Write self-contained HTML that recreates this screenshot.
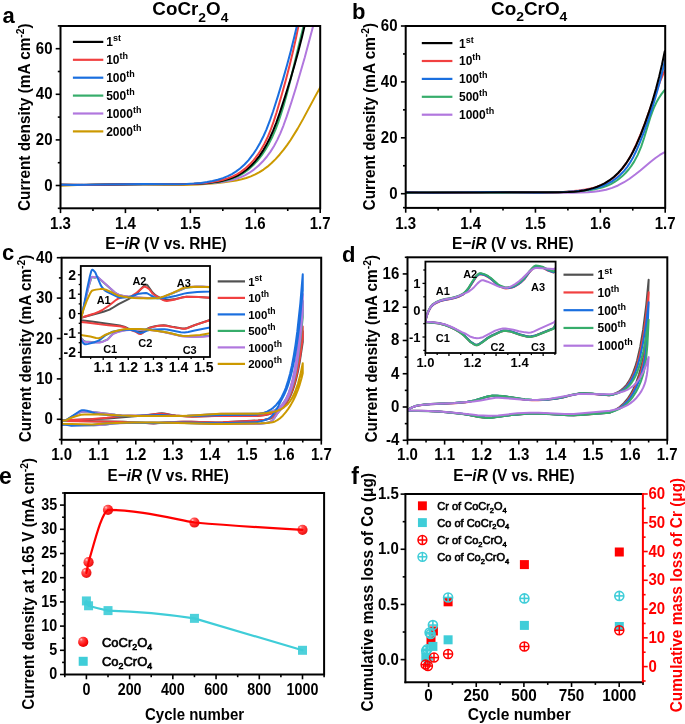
<!DOCTYPE html>
<html><head><meta charset="utf-8"><style>
html,body{margin:0;padding:0;background:#fff;}
body{width:685px;height:724px;overflow:hidden;font-family:"Liberation Sans",sans-serif;}
svg{display:block;will-change:transform;}
</style></head><body>
<svg width="685" height="724" viewBox="0 0 685 724" font-family="Liberation Sans, sans-serif"><clipPath id="clipA"><rect x="60.5" y="26" width="259.7" height="182.3"/></clipPath>
<g clip-path="url(#clipA)">
<polyline points="61.02,185.79 77.06,184.89 94.95,184.47 113.46,184.47 166.56,185.1 183.23,184.92 198.06,184.39 215.36,183.18 224.01,182.28 230.77,181.38 236.25,180.44 241.63,179.25 246.3,177.94 250.85,176.35 255.26,174.44 259.49,172.18 263.54,169.57 267.43,166.65 271.6,163.03 275.57,159.11 279.74,154.48 283.69,149.62 287.06,145.1 290.61,139.97 297.53,128.87 303.03,119.13 315.22,96.35 321.12,85.81" fill="none" stroke="#CC9900" stroke-width="2" stroke-linejoin="round" stroke-linecap="round" />
<polyline points="60.98,184.72 88.82,184.86 145.85,184.2 183.53,184.09 197.89,183.81 209.51,183.29 216.04,182.77 221.78,182.09 227.43,181.13 232.25,180.02 236.95,178.63 241.48,176.9 245.22,175.12 249.4,172.72 253.93,169.56 258.71,165.53 262.66,161.57 266.78,156.75 270.53,151.6 273.92,146.16 277.29,139.86 280.32,133.33 283.57,125.28 286.75,116.4 291.25,102.69 295.93,87.74 304.82,57.19 313.71,23.89" fill="none" stroke="#B177DE" stroke-width="2" stroke-linejoin="round" stroke-linecap="round" />
<polyline points="60.96,184.67 86.21,184.88 144.89,184.06 183.33,184.11 193.91,183.9 203.84,183.44 210.23,182.93 216.57,182.16 222.1,181.2 227.5,179.93 232.08,178.52 236.49,176.79 240.12,175.02 244.16,172.6 248.51,169.42 253.08,165.34 257.31,160.82 261.62,155.36 265.53,149.52 269.05,143.42 272.51,136.48 275.57,129.35 278.32,122.08 281.02,114.05 283.88,104.61 286.71,94.51 291.04,77.66 299.96,40.39 304.1,23.93" fill="none" stroke="#37AD6B" stroke-width="2" stroke-linejoin="round" stroke-linecap="round" />
<polyline points="60.95,184.67 85.44,184.88 143.94,184.07 182.28,184.11 192.82,183.89 202.02,183.42 208.4,182.89 214.73,182.12 220.27,181.16 225.67,179.89 230.26,178.5 234.68,176.79 238.91,174.74 242.36,172.69 246.69,169.54 251.23,165.5 255.42,160.99 259.28,156.1 262.81,150.9 266.38,144.85 269.9,137.97 273.06,130.9 276.42,122.37 279.93,112.4 285.55,95.08 290.66,78.5 294.72,64.54 298.55,50.48 301.99,36.93 305.06,23.86" fill="none" stroke="#000" stroke-width="2" stroke-linejoin="round" stroke-linecap="round" />
<polyline points="60.92,184.65 85.2,184.9 143.04,184.04 181.04,184.17 190.77,183.96 199.14,183.52 206.12,182.9 212.36,182.08 217.82,181.09 223.16,179.79 228.34,178.15 232.69,176.39 236.86,174.3 240.82,171.85 245.08,168.65 249.54,164.58 253.66,160.08 257.43,155.21 260.87,150.04 264.31,144.02 267.36,137.78 270.34,130.72 273.45,122.18 276.65,112.19 281.53,95.55 286.11,79 289.71,65.09 293.09,51.09 296.09,37.59 298.89,23.86" fill="none" stroke="#F14040" stroke-width="2" stroke-linejoin="round" stroke-linecap="round" />
<polyline points="60.88,184.64 73.29,184.88 86.98,184.87 144.05,183.92 178.31,184.16 186.56,183.97 194.12,183.56 200.98,182.91 207.11,182.05 212.49,181.03 217.75,179.73 222.86,178.1 227.78,176.11 231.9,174.04 235.83,171.65 240.05,168.51 244.48,164.51 248.57,160.07 252.76,154.72 256.57,149.01 260.02,143.03 263.44,136.25 266.5,129.32 269.74,120.98 273.11,111.25 278.09,95.62 282.98,79.38 287.05,65.04 290.73,51.27 294.21,37.36 297.34,23.92" fill="none" stroke="#1A6FDF" stroke-width="2" stroke-linejoin="round" stroke-linecap="round" />
</g>
<rect x="60.5" y="26" width="259.7" height="182.3" fill="none" stroke="#000" stroke-width="2"/>
<line x1="60.5" y1="208.3" x2="60.5" y2="213.1" stroke="#000" stroke-width="1.6" stroke-linecap="butt"/>
<line x1="92.96" y1="208.3" x2="92.96" y2="211" stroke="#000" stroke-width="1.6" stroke-linecap="butt"/>
<line x1="125.43" y1="208.3" x2="125.43" y2="213.1" stroke="#000" stroke-width="1.6" stroke-linecap="butt"/>
<line x1="157.89" y1="208.3" x2="157.89" y2="211" stroke="#000" stroke-width="1.6" stroke-linecap="butt"/>
<line x1="190.35" y1="208.3" x2="190.35" y2="213.1" stroke="#000" stroke-width="1.6" stroke-linecap="butt"/>
<line x1="222.81" y1="208.3" x2="222.81" y2="211" stroke="#000" stroke-width="1.6" stroke-linecap="butt"/>
<line x1="255.28" y1="208.3" x2="255.28" y2="213.1" stroke="#000" stroke-width="1.6" stroke-linecap="butt"/>
<line x1="287.74" y1="208.3" x2="287.74" y2="211" stroke="#000" stroke-width="1.6" stroke-linecap="butt"/>
<line x1="320.2" y1="208.3" x2="320.2" y2="213.1" stroke="#000" stroke-width="1.6" stroke-linecap="butt"/>
<text transform="translate(60.5,228.6) scale(1,1.14)" font-size="15" font-weight="bold" text-anchor="middle" fill="#000" >1.3</text>
<text transform="translate(125.42,228.6) scale(1,1.14)" font-size="15" font-weight="bold" text-anchor="middle" fill="#000" >1.4</text>
<text transform="translate(190.35,228.6) scale(1,1.14)" font-size="15" font-weight="bold" text-anchor="middle" fill="#000" >1.5</text>
<text transform="translate(255.28,228.6) scale(1,1.14)" font-size="15" font-weight="bold" text-anchor="middle" fill="#000" >1.6</text>
<text transform="translate(320.2,228.6) scale(1,1.14)" font-size="15" font-weight="bold" text-anchor="middle" fill="#000" >1.7</text>
<line x1="57.8" y1="208.3" x2="60.5" y2="208.3" stroke="#000" stroke-width="1.6" stroke-linecap="butt"/>
<line x1="55.7" y1="185.5" x2="60.5" y2="185.5" stroke="#000" stroke-width="1.6" stroke-linecap="butt"/>
<line x1="57.8" y1="162.7" x2="60.5" y2="162.7" stroke="#000" stroke-width="1.6" stroke-linecap="butt"/>
<line x1="55.7" y1="139.9" x2="60.5" y2="139.9" stroke="#000" stroke-width="1.6" stroke-linecap="butt"/>
<line x1="57.8" y1="117.1" x2="60.5" y2="117.1" stroke="#000" stroke-width="1.6" stroke-linecap="butt"/>
<line x1="55.7" y1="94.3" x2="60.5" y2="94.3" stroke="#000" stroke-width="1.6" stroke-linecap="butt"/>
<line x1="57.8" y1="71.5" x2="60.5" y2="71.5" stroke="#000" stroke-width="1.6" stroke-linecap="butt"/>
<line x1="55.7" y1="48.7" x2="60.5" y2="48.7" stroke="#000" stroke-width="1.6" stroke-linecap="butt"/>
<line x1="57.8" y1="25.9" x2="60.5" y2="25.9" stroke="#000" stroke-width="1.6" stroke-linecap="butt"/>
<text transform="translate(52.5,190.5) scale(1,1.14)" font-size="15" font-weight="bold" text-anchor="end" fill="#000" >0</text>
<text transform="translate(52.5,144.9) scale(1,1.14)" font-size="15" font-weight="bold" text-anchor="end" fill="#000" >20</text>
<text transform="translate(52.5,99.3) scale(1,1.14)" font-size="15" font-weight="bold" text-anchor="end" fill="#000" >40</text>
<text transform="translate(52.5,53.7) scale(1,1.14)" font-size="15" font-weight="bold" text-anchor="end" fill="#000" >60</text>
<line x1="72.9" y1="41.9" x2="103.3" y2="41.9" stroke="#000" stroke-width="2.2" stroke-linecap="butt"/>
<text x="106.2" y="46.3" font-size="12" font-weight="bold" fill="#000">1<tspan font-size="9" dy="-5">st</tspan></text>
<line x1="72.9" y1="59.8" x2="103.3" y2="59.8" stroke="#F14040" stroke-width="2.2" stroke-linecap="butt"/>
<text x="106.2" y="64.2" font-size="12" font-weight="bold" fill="#000">10<tspan font-size="9" dy="-5">th</tspan></text>
<line x1="72.9" y1="77.7" x2="103.3" y2="77.7" stroke="#1A6FDF" stroke-width="2.2" stroke-linecap="butt"/>
<text x="106.2" y="82.1" font-size="12" font-weight="bold" fill="#000">100<tspan font-size="9" dy="-5">th</tspan></text>
<line x1="72.9" y1="95.6" x2="103.3" y2="95.6" stroke="#37AD6B" stroke-width="2.2" stroke-linecap="butt"/>
<text x="106.2" y="100" font-size="12" font-weight="bold" fill="#000">500<tspan font-size="9" dy="-5">th</tspan></text>
<line x1="72.9" y1="113.5" x2="103.3" y2="113.5" stroke="#B177DE" stroke-width="2.2" stroke-linecap="butt"/>
<text x="106.2" y="117.9" font-size="12" font-weight="bold" fill="#000">1000<tspan font-size="9" dy="-5">th</tspan></text>
<line x1="72.9" y1="131.4" x2="103.3" y2="131.4" stroke="#CC9900" stroke-width="2.2" stroke-linecap="butt"/>
<text x="106.2" y="135.8" font-size="12" font-weight="bold" fill="#000">2000<tspan font-size="9" dy="-5">th</tspan></text>
<text transform="translate(166,248.6) scale(1,1.13)" font-size="15.35" font-weight="bold" text-anchor="middle" fill="#000">E−<tspan font-style="italic">iR</tspan> (V vs. RHE)</text>
<text transform="translate(30,117.15) rotate(-90) scale(1,1.12)" x="0" y="0" font-size="15.35" font-weight="bold" text-anchor="middle" fill="#000">Current density (mA cm<tspan font-size="10.4" dy="-5.7">-2</tspan><tspan dy="5.7">)</tspan></text>
<text x="2.5" y="22.8" font-size="22" font-weight="bold" text-anchor="start" fill="#000" >a</text>
<text x="190.35" y="15.3" font-size="17.5" font-weight="bold" text-anchor="middle" fill="#000" textLength="76" lengthAdjust="spacingAndGlyphs" ><tspan>CoCr</tspan><tspan font-size="12.9" dy="6.4">2</tspan><tspan dy="-6.4">O</tspan><tspan font-size="12.9" dy="6.4">4</tspan></text>
<clipPath id="clipB"><rect x="405.7" y="26" width="259.50000000000006" height="181.9"/></clipPath>
<g clip-path="url(#clipB)">
<polyline points="405.94,192.4 444.01,192.7 526.39,192.34 572.09,192.68 580.27,192.53 587.91,192.19 593.87,191.71 599.23,191.03 606.05,189.69 612.14,187.89 618,185.47 624.1,182.22 629.53,178.74 635.22,174.56 640.34,170.45 650.38,161.98 655.46,157.99 659.82,154.97 664.34,152.33" fill="none" stroke="#B177DE" stroke-width="2" stroke-linejoin="round" stroke-linecap="round" />
<polyline points="405.86,193.09 423.18,192.46 442.33,192.17 462.67,192.21 522.28,192.8 541.37,192.66 557.98,192.23 577.25,191.26 588.77,190.18 593.79,189.41 598.7,188.38 602.89,187.23 606.96,185.8 610.88,184.05 614.65,181.96 618.23,179.52 622.1,176.35 625.27,173.28 628.63,169.48 631.33,165.92 634.14,161.64 637.74,154.87 641.19,146.6 644.08,138.05 650.25,117.72 652.13,112.33 653.98,107.65 656.34,102.57 658.74,98.23 661.47,94.09 664.59,90.18" fill="none" stroke="#37AD6B" stroke-width="2" stroke-linejoin="round" stroke-linecap="round" />
<polyline points="405.95,192.12 417.93,192.55 431.19,192.72 487.4,192.04 500.65,192.12 535.16,192.7 545.77,192.66 555.71,192.4 563.65,191.99 571.58,191.35 578.84,190.54 585.41,189.58 590.6,188.57 595.04,187.42 599.35,185.98 602.91,184.45 606.9,182.34 611.2,179.51 614.73,176.69 618.48,173.1 621.93,169.16 625.1,164.92 628.03,160.44 631.06,155.18 635.88,145.46 641.12,133.14 645.79,120.8 657.29,88.65 660.94,79.36 664.69,70.68" fill="none" stroke="#F14040" stroke-width="2" stroke-linejoin="round" stroke-linecap="round" />
<polyline points="405.99,192.19 418.43,192.54 432.25,192.67 488.15,192.12 537.9,192.68 548.94,192.61 559.29,192.31 567.55,191.87 575.81,191.2 584.05,190.26 590.2,189.32 594.92,188.35 599.56,187.08 604.06,185.44 607.8,183.7 611.98,181.32 616.47,178.15 620.11,175.03 623.88,171.11 627.26,166.85 630.28,162.3 633.34,156.91 636.09,151.3 639.66,142.96 644.19,131.27 648.37,119.58 652.24,107.84 655.83,96.03 659.15,84.11 662.41,71.4 665.45,58.51" fill="none" stroke="#1A6FDF" stroke-width="2" stroke-linejoin="round" stroke-linecap="round" />
<polyline points="406.07,192.51 480.92,192.44 531.74,192.15 558.61,192.29 568.55,192.06 574.18,191.69 579.06,191.16 583.87,190.41 588.61,189.4 593.26,188.1 597.15,186.75 600.92,185.15 604.57,183.31 609.21,180.46 614.08,176.73 618.09,173 622.24,168.4 626.01,163.43 629.43,158.15 632.88,152 636.31,144.98 640.24,135.8 644.8,123.91 648.73,112.7 652.53,100.81 655.98,88.85 659.13,76.76 662,64.49 664.76,51.29" fill="none" stroke="#000" stroke-width="2" stroke-linejoin="round" stroke-linecap="round" />
</g>
<rect x="405.7" y="26" width="259.5" height="181.9" fill="none" stroke="#000" stroke-width="2"/>
<line x1="405.7" y1="207.9" x2="405.7" y2="212.7" stroke="#000" stroke-width="1.6" stroke-linecap="butt"/>
<line x1="438.14" y1="207.9" x2="438.14" y2="210.6" stroke="#000" stroke-width="1.6" stroke-linecap="butt"/>
<line x1="470.58" y1="207.9" x2="470.58" y2="212.7" stroke="#000" stroke-width="1.6" stroke-linecap="butt"/>
<line x1="503.01" y1="207.9" x2="503.01" y2="210.6" stroke="#000" stroke-width="1.6" stroke-linecap="butt"/>
<line x1="535.45" y1="207.9" x2="535.45" y2="212.7" stroke="#000" stroke-width="1.6" stroke-linecap="butt"/>
<line x1="567.89" y1="207.9" x2="567.89" y2="210.6" stroke="#000" stroke-width="1.6" stroke-linecap="butt"/>
<line x1="600.33" y1="207.9" x2="600.33" y2="212.7" stroke="#000" stroke-width="1.6" stroke-linecap="butt"/>
<line x1="632.76" y1="207.9" x2="632.76" y2="210.6" stroke="#000" stroke-width="1.6" stroke-linecap="butt"/>
<line x1="665.2" y1="207.9" x2="665.2" y2="212.7" stroke="#000" stroke-width="1.6" stroke-linecap="butt"/>
<text transform="translate(405.7,228.6) scale(1,1.14)" font-size="15" font-weight="bold" text-anchor="middle" fill="#000" >1.3</text>
<text transform="translate(470.57,228.6) scale(1,1.14)" font-size="15" font-weight="bold" text-anchor="middle" fill="#000" >1.4</text>
<text transform="translate(535.45,228.6) scale(1,1.14)" font-size="15" font-weight="bold" text-anchor="middle" fill="#000" >1.5</text>
<text transform="translate(600.33,228.6) scale(1,1.14)" font-size="15" font-weight="bold" text-anchor="middle" fill="#000" >1.6</text>
<text transform="translate(665.2,228.6) scale(1,1.14)" font-size="15" font-weight="bold" text-anchor="middle" fill="#000" >1.7</text>
<line x1="403" y1="207.67" x2="405.7" y2="207.67" stroke="#000" stroke-width="1.6" stroke-linecap="butt"/>
<line x1="400.9" y1="193.7" x2="405.7" y2="193.7" stroke="#000" stroke-width="1.6" stroke-linecap="butt"/>
<line x1="403" y1="165.75" x2="405.7" y2="165.75" stroke="#000" stroke-width="1.6" stroke-linecap="butt"/>
<line x1="400.9" y1="137.8" x2="405.7" y2="137.8" stroke="#000" stroke-width="1.6" stroke-linecap="butt"/>
<line x1="403" y1="109.85" x2="405.7" y2="109.85" stroke="#000" stroke-width="1.6" stroke-linecap="butt"/>
<line x1="400.9" y1="81.9" x2="405.7" y2="81.9" stroke="#000" stroke-width="1.6" stroke-linecap="butt"/>
<line x1="403" y1="53.95" x2="405.7" y2="53.95" stroke="#000" stroke-width="1.6" stroke-linecap="butt"/>
<line x1="400.9" y1="26" x2="405.7" y2="26" stroke="#000" stroke-width="1.6" stroke-linecap="butt"/>
<text transform="translate(397.5,198.7) scale(1,1.14)" font-size="15" font-weight="bold" text-anchor="end" fill="#000" >0</text>
<text transform="translate(397.5,142.8) scale(1,1.14)" font-size="15" font-weight="bold" text-anchor="end" fill="#000" >20</text>
<text transform="translate(397.5,86.9) scale(1,1.14)" font-size="15" font-weight="bold" text-anchor="end" fill="#000" >40</text>
<text transform="translate(397.5,31) scale(1,1.14)" font-size="15" font-weight="bold" text-anchor="end" fill="#000" >60</text>
<line x1="421.8" y1="43.1" x2="452.4" y2="43.1" stroke="#000" stroke-width="2.2" stroke-linecap="butt"/>
<text x="459" y="47.5" font-size="12" font-weight="bold" fill="#000">1<tspan font-size="9" dy="-5">st</tspan></text>
<line x1="421.8" y1="61" x2="452.4" y2="61" stroke="#F14040" stroke-width="2.2" stroke-linecap="butt"/>
<text x="459" y="65.4" font-size="12" font-weight="bold" fill="#000">10<tspan font-size="9" dy="-5">th</tspan></text>
<line x1="421.8" y1="78.9" x2="452.4" y2="78.9" stroke="#1A6FDF" stroke-width="2.2" stroke-linecap="butt"/>
<text x="459" y="83.3" font-size="12" font-weight="bold" fill="#000">100<tspan font-size="9" dy="-5">th</tspan></text>
<line x1="421.8" y1="96.8" x2="452.4" y2="96.8" stroke="#37AD6B" stroke-width="2.2" stroke-linecap="butt"/>
<text x="459" y="101.2" font-size="12" font-weight="bold" fill="#000">500<tspan font-size="9" dy="-5">th</tspan></text>
<line x1="421.8" y1="114.7" x2="452.4" y2="114.7" stroke="#B177DE" stroke-width="2.2" stroke-linecap="butt"/>
<text x="459" y="119.1" font-size="12" font-weight="bold" fill="#000">1000<tspan font-size="9" dy="-5">th</tspan></text>
<text transform="translate(512.8,248.6) scale(1,1.13)" font-size="15.35" font-weight="bold" text-anchor="middle" fill="#000">E−<tspan font-style="italic">iR</tspan> (V vs. RHE)</text>
<text transform="translate(375.3,116.6) rotate(-90) scale(1,1.12)" x="0" y="0" font-size="15.35" font-weight="bold" text-anchor="middle" fill="#000">Current density (mA cm<tspan font-size="10.4" dy="-5.7">-2</tspan><tspan dy="5.7">)</tspan></text>
<text x="352" y="19" font-size="22" font-weight="bold" text-anchor="start" fill="#000" >b</text>
<text x="529.2" y="15.3" font-size="17.5" font-weight="bold" text-anchor="middle" fill="#000" textLength="76.3" lengthAdjust="spacingAndGlyphs" ><tspan>Co</tspan><tspan font-size="12.9" dy="5.6">2</tspan><tspan dy="-5.6">CrO</tspan><tspan font-size="12.9" dy="5.6">4</tspan></text>
<clipPath id="clipC"><rect x="61.6" y="257.7" width="259.59999999999997" height="182.10000000000002"/></clipPath>
<g clip-path="url(#clipC)">
<path d="M61.6,420.15 L73.08,419.89 L108.14,418.46 L143.8,415.62 L158.91,413.5 L161.93,413.27 L164.35,413.46 L171.6,414.91 L175.83,415.45 L186.1,416.27 L192.15,416.47 L221.76,415.78 L256.21,416.01 L261.05,415.57 L265.28,414.95 L268.9,414.15 L271.93,413.21 L274.95,411.92 L277.97,410.16 L280.99,407.75 L283.41,405.2 L285.83,401.92 L287.64,398.86 L289.45,395.17 L291.27,390.72 L294.29,381.15 L297.31,368.07 L300.33,350.18 L302.75,331.23 L302.75,341.98 L299.73,362.08 L297.91,371.44 L296.1,379.19 L294.29,385.62 L292.48,390.95 L290.66,395.36 L288.85,399.02 L287.04,402.05 L285.22,404.56 L279.78,410.62 L275.55,414.86 L272.53,417.27 L270.11,418.54 L264.67,419.76 L258.03,420.51 L222.97,422.3 L215.11,422.38 L191.54,421.78 L183.69,421.76 L167.97,422.2 L154.07,423.13 L140.77,422.67 L123.25,421.79 L61.6,420.7 Z" fill="none" stroke="#515151" stroke-width="2" stroke-linejoin="round"/>
<path d="M61.6,420.15 L69.46,420.01 L92.42,418.91 L106.93,417.67 L120.23,416.23 L129.29,415.76 L139.57,415.75 L159.51,413.7 L166.76,414.23 L171.6,415.13 L174.62,415.46 L187.31,416.49 L192.75,416.65 L221.76,415.79 L256.21,416.01 L261.05,415.55 L265.28,414.89 L268.9,414.04 L271.93,413.05 L274.95,411.69 L277.97,409.82 L280.99,407.28 L283.41,404.58 L285.83,401.11 L287.64,397.88 L289.45,393.98 L291.27,389.27 L294.29,379.16 L297.31,365.33 L300.33,346.41 L302.75,326.38 L302.75,337.74 L299.73,358.99 L297.91,368.89 L296.1,377.09 L294.29,383.89 L292.48,389.52 L290.66,394.18 L288.85,398.05 L287.04,401.25 L285.22,403.91 L280.39,409.6 L276.16,414.09 L273.14,416.72 L270.11,418.47 L264.67,419.75 L258.03,420.55 L222.97,422.33 L215.72,422.43 L190.94,421.81 L181.27,421.83 L167.37,422.28 L153.47,423.57 L129.29,422.09 L61.6,421.03 Z" fill="none" stroke="#F14040" stroke-width="2" stroke-linejoin="round"/>
<path d="M61.6,420.49 L65.83,420.45 L76.71,413.91 L80.34,412.22 L82.15,411.72 L90.61,411.75 L115.39,414.86 L122.04,415.43 L140.77,415.9 L180.06,416.11 L187.31,415.87 L221.76,413.89 L258.03,413.73 L263.46,413.24 L267.7,412.56 L271.32,411.64 L274.95,410.21 L277.97,408.44 L280.39,406.48 L282.81,403.87 L285.22,400.38 L287.04,397.01 L288.85,392.83 L290.66,387.63 L292.48,381.16 L294.29,373.13 L295.5,366.72 L297.91,350.76 L300.33,329.43 L302.75,300.93 L302.75,317.22 L300.33,341.62 L298.52,355.8 L296.71,367.22 L294.89,376.4 L293.08,383.79 L291.87,387.9 L290.06,393.05 L288.24,397.19 L286.43,400.52 L281.6,407.26 L274.34,418.03 L271.93,420.73 L270.11,421.99 L265.88,422.97 L260.44,423.63 L256.21,423.9 L246.54,424.04 L216.93,423.99 L175.83,422.79 L151.05,422.55 L132.31,422.69 L120.23,423.09 L112.97,423.52 L104.51,424.72 L93.63,425.26 L71.87,425.1 L65.83,424.37 L61.6,424.36 Z" fill="none" stroke="#37AD6B" stroke-width="2" stroke-linejoin="round"/>
<path d="M61.6,420.42 L65.83,420.39 L76.71,413.85 L80.34,412.15 L82.15,411.66 L90.61,411.69 L115.39,414.79 L122.04,415.37 L141.38,415.84 L180.66,416.04 L187.31,415.81 L221.76,413.83 L258.63,413.63 L264.07,413.12 L268.3,412.41 L271.93,411.42 L275.55,409.88 L278.57,407.96 L280.99,405.82 L283.41,402.94 L285.22,400.14 L287.04,396.65 L288.85,392.3 L290.66,386.85 L292.48,380.06 L294.29,371.58 L295.5,364.78 L297.91,347.75 L300.33,324.85 L302.75,294.06 L302.75,311.69 L300.33,337.96 L298.52,353.14 L296.71,365.3 L294.89,375.03 L293.08,382.83 L291.87,387.14 L290.06,392.53 L288.24,396.84 L286.43,400.29 L281.6,407.2 L274.34,418.12 L271.93,420.84 L270.11,422.1 L266.49,422.97 L261.05,423.65 L256.21,423.96 L246.54,424.1 L216.93,424.05 L175.83,422.85 L151.05,422.61 L132.31,422.76 L120.23,423.15 L112.97,423.58 L104.51,424.78 L93.63,425.32 L71.87,425.17 L65.83,424.43 L61.6,424.42 Z" fill="none" stroke="#B177DE" stroke-width="2" stroke-linejoin="round"/>
<path d="M61.6,420.47 L65.83,420.43 L79.13,411.47 L80.94,410.51 L82.15,410.19 L83.96,410.23 L86.98,410.72 L94.84,413.32 L99.68,414.28 L104.51,414.77 L121.43,415.9 L125.66,416.01 L136.54,415.85 L151.65,415.15 L161.93,415.01 L175.22,415.96 L180.06,416.11 L194.56,415.96 L222.97,415.01 L256.21,414.68 L260.44,413.85 L264.07,412.78 L267.09,411.57 L270.11,409.96 L273.14,407.81 L276.16,404.95 L279.18,401.15 L281.6,397.22 L284.01,392.28 L285.83,387.76 L288.24,380.38 L290.06,373.64 L291.87,365.63 L293.68,356.12 L295.5,344.84 L297.31,331.45 L300.33,303.32 L302.75,274.26 L302.75,290.67 L299.73,321.94 L297.91,336.83 L296.1,349.38 L294.29,359.95 L291.87,371.49 L290.06,378.58 L288.24,384.55 L286.43,389.57 L284.01,395.07 L278.57,405.65 L274.95,411.89 L271.93,415.97 L269.51,418.05 L266.49,419.53 L263.46,420.62 L259.84,421.57 L256.21,422.22 L218.74,423.24 L184.89,422.55 L167.37,422.67 L153.47,423.34 L138.96,422.67 L129.29,422.65 L111.16,423.15 L102.7,423.76 L91.82,424.93 L76.71,425.61 L71.27,425.67 L68.85,425.38 L65.83,424.75 L61.6,424.74 Z" fill="none" stroke="#1A6FDF" stroke-width="2" stroke-linejoin="round"/>
<path d="M61.6,420.42 L65.83,420.39 L70.06,418.26 L74.9,416.46 L80.94,414.73 L84.57,414.41 L99.68,414.21 L120.83,415.53 L134.73,415.92 L152.86,416.09 L180.06,416.04 L188.52,415.72 L219.95,413.86 L258.03,413.69 L267.09,413.01 L273.74,411.87 L276.76,411.01 L279.18,410.09 L281.6,408.9 L284.01,407.34 L286.43,405.33 L288.24,403.44 L290.06,401.13 L291.87,398.33 L294.89,392.26 L297.91,383.85 L300.33,374.84 L302.75,363.14 L302.75,373.19 L301.54,378.19 L299.73,384.56 L297.91,389.85 L295.5,395.77 L293.08,400.78 L290.66,405.13 L288.24,408.91 L285.83,412.21 L282.81,415.67 L279.78,418.44 L277.37,420.17 L274.95,421.45 L272.53,422.27 L267.7,422.91 L261.05,423.29 L225.99,423.93 L214.51,423.93 L189.13,423.13 L153.47,422.51 L133.52,422.51 L123.85,422.71 L108.74,423.31 L92.42,424.41 L61.6,423.78 Z" fill="none" stroke="#CC9900" stroke-width="2" stroke-linejoin="round"/>
</g>
<rect x="61.6" y="257.7" width="259.6" height="182.1" fill="none" stroke="#000" stroke-width="2"/>
<line x1="61.6" y1="439.8" x2="61.6" y2="444.6" stroke="#000" stroke-width="1.6" stroke-linecap="butt"/>
<line x1="80.15" y1="439.8" x2="80.15" y2="442.5" stroke="#000" stroke-width="1.6" stroke-linecap="butt"/>
<line x1="98.7" y1="439.8" x2="98.7" y2="444.6" stroke="#000" stroke-width="1.6" stroke-linecap="butt"/>
<line x1="117.25" y1="439.8" x2="117.25" y2="442.5" stroke="#000" stroke-width="1.6" stroke-linecap="butt"/>
<line x1="135.8" y1="439.8" x2="135.8" y2="444.6" stroke="#000" stroke-width="1.6" stroke-linecap="butt"/>
<line x1="154.35" y1="439.8" x2="154.35" y2="442.5" stroke="#000" stroke-width="1.6" stroke-linecap="butt"/>
<line x1="172.9" y1="439.8" x2="172.9" y2="444.6" stroke="#000" stroke-width="1.6" stroke-linecap="butt"/>
<line x1="191.45" y1="439.8" x2="191.45" y2="442.5" stroke="#000" stroke-width="1.6" stroke-linecap="butt"/>
<line x1="210" y1="439.8" x2="210" y2="444.6" stroke="#000" stroke-width="1.6" stroke-linecap="butt"/>
<line x1="228.55" y1="439.8" x2="228.55" y2="442.5" stroke="#000" stroke-width="1.6" stroke-linecap="butt"/>
<line x1="247.1" y1="439.8" x2="247.1" y2="444.6" stroke="#000" stroke-width="1.6" stroke-linecap="butt"/>
<line x1="265.65" y1="439.8" x2="265.65" y2="442.5" stroke="#000" stroke-width="1.6" stroke-linecap="butt"/>
<line x1="284.2" y1="439.8" x2="284.2" y2="444.6" stroke="#000" stroke-width="1.6" stroke-linecap="butt"/>
<line x1="302.75" y1="439.8" x2="302.75" y2="442.5" stroke="#000" stroke-width="1.6" stroke-linecap="butt"/>
<line x1="321.3" y1="439.8" x2="321.3" y2="444.6" stroke="#000" stroke-width="1.6" stroke-linecap="butt"/>
<text transform="translate(61.6,460.2) scale(1,1.14)" font-size="15" font-weight="bold" text-anchor="middle" fill="#000" >1.0</text>
<text transform="translate(98.7,460.2) scale(1,1.14)" font-size="15" font-weight="bold" text-anchor="middle" fill="#000" >1.1</text>
<text transform="translate(135.8,460.2) scale(1,1.14)" font-size="15" font-weight="bold" text-anchor="middle" fill="#000" >1.2</text>
<text transform="translate(172.9,460.2) scale(1,1.14)" font-size="15" font-weight="bold" text-anchor="middle" fill="#000" >1.3</text>
<text transform="translate(210,460.2) scale(1,1.14)" font-size="15" font-weight="bold" text-anchor="middle" fill="#000" >1.4</text>
<text transform="translate(247.1,460.2) scale(1,1.14)" font-size="15" font-weight="bold" text-anchor="middle" fill="#000" >1.5</text>
<text transform="translate(284.2,460.2) scale(1,1.14)" font-size="15" font-weight="bold" text-anchor="middle" fill="#000" >1.6</text>
<text transform="translate(321.3,460.2) scale(1,1.14)" font-size="15" font-weight="bold" text-anchor="middle" fill="#000" >1.7</text>
<line x1="58.9" y1="439.5" x2="61.6" y2="439.5" stroke="#000" stroke-width="1.6" stroke-linecap="butt"/>
<line x1="56.8" y1="419.3" x2="61.6" y2="419.3" stroke="#000" stroke-width="1.6" stroke-linecap="butt"/>
<line x1="58.9" y1="399.1" x2="61.6" y2="399.1" stroke="#000" stroke-width="1.6" stroke-linecap="butt"/>
<line x1="56.8" y1="378.9" x2="61.6" y2="378.9" stroke="#000" stroke-width="1.6" stroke-linecap="butt"/>
<line x1="58.9" y1="358.7" x2="61.6" y2="358.7" stroke="#000" stroke-width="1.6" stroke-linecap="butt"/>
<line x1="56.8" y1="338.5" x2="61.6" y2="338.5" stroke="#000" stroke-width="1.6" stroke-linecap="butt"/>
<line x1="58.9" y1="318.3" x2="61.6" y2="318.3" stroke="#000" stroke-width="1.6" stroke-linecap="butt"/>
<line x1="56.8" y1="298.1" x2="61.6" y2="298.1" stroke="#000" stroke-width="1.6" stroke-linecap="butt"/>
<line x1="58.9" y1="277.9" x2="61.6" y2="277.9" stroke="#000" stroke-width="1.6" stroke-linecap="butt"/>
<line x1="56.8" y1="257.7" x2="61.6" y2="257.7" stroke="#000" stroke-width="1.6" stroke-linecap="butt"/>
<text transform="translate(52.8,424.3) scale(1,1.14)" font-size="15" font-weight="bold" text-anchor="end" fill="#000" >0</text>
<text transform="translate(52.8,383.9) scale(1,1.14)" font-size="15" font-weight="bold" text-anchor="end" fill="#000" >10</text>
<text transform="translate(52.8,343.5) scale(1,1.14)" font-size="15" font-weight="bold" text-anchor="end" fill="#000" >20</text>
<text transform="translate(52.8,303.1) scale(1,1.14)" font-size="15" font-weight="bold" text-anchor="end" fill="#000" >30</text>
<text transform="translate(52.8,262.7) scale(1,1.14)" font-size="15" font-weight="bold" text-anchor="end" fill="#000" >40</text>
<rect x="80.8" y="266" width="129.2" height="91" fill="#fff"/>
<clipPath id="clipCi"><rect x="80.8" y="266" width="129.2" height="91"/></clipPath>
<g clip-path="url(#clipCi)">
<path d="M78.07,317.7 L80.94,317.69 L85.85,316.45 L103.45,311.74 L109.59,309.57 L112.05,308.22 L118.6,304.07 L128.01,299.35 L133.74,295.93 L136.2,293.94 L143.97,285.76 L145.2,284.89 L146.02,284.62 L146.84,284.77 L147.66,285.54 L152.57,292.53 L155.43,295.12 L157.48,296.47 L162.39,299.04 L164.44,299.76 L166.48,300 L169.76,299.77 L175.49,298.93 L183.27,297.15 L186.54,296.72 L198.82,297.04 L209.87,297.8 L211.51,296.92 L213.15,295.71 L216.01,292.72 L218.47,288.87 L220.51,284.34 L222.56,278.16 L224.61,269.7 L226.65,258.13 L228.29,245.88 L229.93,230.13 L231.15,215.45 L233.61,176.34 L235.66,130.42 L237.7,67.6 L239.75,-18.32 L241.39,-109.32 L241.39,-57.71 L239.34,38.81 L236.89,121.02 L234.43,177.46 L231.97,216.22 L229.52,242.84 L225.83,271.93 L222.97,292.29 L220.92,303.85 L219.29,309.95 L217.65,313.04 L215.6,315.79 L213.55,317.77 L211.1,319.43 L209.87,320 L194.32,325.24 L187.36,327.99 L184.9,328.47 L182.04,328.39 L173.85,327.11 L166.08,325.53 L163.62,325.31 L160.75,325.4 L156.25,326.04 L150.11,327.51 L148.48,328.2 L142.34,331.42 L140.7,331.97 L138.65,331.77 L131.69,329.79 L128.01,328.5 L124.33,326.61 L119.82,325.54 L91.58,321.56 L80.94,320.3 L78.07,320.3 Z" fill="none" stroke="#515151" stroke-width="2" stroke-linejoin="round"/>
<path d="M78.07,317.7 L80.94,317.69 L83.4,317.01 L93.63,313.82 L98.95,311.75 L103.04,309.51 L108.77,305.78 L115.32,300.5 L117.78,298.84 L121.46,297.26 L123.92,296.59 L125.55,296.53 L128.83,297 L130.88,296.55 L135.79,293.47 L142.75,287.58 L144.38,286.73 L145.2,286.75 L146.43,287.2 L149.29,289.25 L152.57,293.58 L154.61,295.18 L163.21,300.09 L165.26,300.8 L166.89,300.89 L169.76,300.57 L175.49,299.4 L183.27,297.24 L186.54,296.72 L198.82,297.04 L209.87,297.8 L211.51,296.87 L213.15,295.59 L216.01,292.42 L218.47,288.35 L220.51,283.58 L222.56,277.04 L224.61,268.1 L226.65,255.86 L228.29,242.91 L229.93,226.27 L231.15,210.74 L233.61,169.39 L235.66,120.85 L237.7,54.44 L239.75,-36.4 L241.39,-132.6 L241.39,-78.04 L239.34,24 L236.89,110.91 L234.43,170.58 L231.97,211.56 L229.52,239.69 L226.24,267.01 L223.38,288.57 L221.33,301.2 L220.1,306.87 L219.29,309.6 L217.65,312.86 L215.6,315.76 L213.55,317.85 L211.1,319.6 L209.87,320.2 L194.73,325.09 L187.36,328.16 L184.9,328.67 L182.45,328.63 L174.26,327.38 L165.67,325.68 L162.8,325.5 L159.12,325.75 L154.21,326.64 L149.7,327.9 L144.79,331.14 L141.93,333.48 L141.11,333.93 L140.29,334.1 L139.06,333.79 L135.79,331.91 L128.01,329 L125.15,327.41 L123.92,326.98 L119.41,326.33 L108.36,325.37 L86.26,322.47 L80.94,321.9 L78.07,321.9 Z" fill="none" stroke="#F14040" stroke-width="2" stroke-linejoin="round"/>
<path d="M78.07,319.3 L80.53,319.3 L80.94,319.14 L88.31,287.71 L90.76,279.59 L91.58,277.72 L91.99,277.22 L92.81,277.17 L94.86,277.79 L96.9,277.1 L97.72,277.36 L114.5,292.26 L116.96,294.08 L119.01,295.03 L124.74,296.41 L131.69,297.26 L147.25,298.24 L158.3,298.29 L160.75,297.92 L163.21,297.14 L180.4,290.14 L184.49,288.29 L186.54,287.63 L195.55,286.84 L202.09,286.86 L209.87,287.3 L211.1,286.84 L213.15,285.72 L214.78,284.48 L216.42,282.83 L217.65,281.24 L220.1,276.8 L221.33,273.74 L222.56,269.94 L224.61,261.44 L226.24,252.05 L227.88,239.5 L229.52,222.74 L230.75,206.57 L231.97,186.47 L233.2,161.5 L234.43,130.47 L236.48,61.14 L238.11,-15.54 L239.75,-117.98 L241.39,-254.82 L241.39,-176.57 L239.75,-59.4 L238.52,8.7 L237.29,63.5 L236.07,107.61 L234.84,143.1 L232.79,187.54 L231.56,207.43 L230.34,223.43 L227.06,255.77 L222.15,307.5 L220.51,320.47 L219.29,326.5 L218.47,328.35 L216.42,331.25 L214.78,332.91 L212.74,334.4 L209.87,335.7 L203.32,336.36 L193.91,336.69 L183.27,336.11 L178.76,335.34 L164.44,331.96 L155.43,330.34 L146.84,329.47 L138.65,329.21 L132.1,329.44 L125.96,329.9 L121.87,330.64 L117.78,331.79 L114.09,333.18 L112.87,333.86 L111.64,334.97 L108.36,338.59 L107.14,339.61 L103.04,341.37 L99.77,342.21 L94.86,342.2 L85.03,341.47 L83.4,340.56 L80.94,337.95 L78.07,337.9 Z" fill="none" stroke="#37AD6B" stroke-width="2" stroke-linejoin="round"/>
<path d="M78.07,319 L80.53,319 L80.94,318.84 L88.31,287.41 L90.76,279.29 L91.58,277.42 L91.99,276.92 L92.81,276.87 L94.86,277.49 L96.9,276.8 L97.72,277.06 L114.5,291.96 L116.96,293.78 L119.01,294.73 L124.74,296.11 L132.1,296.99 L147.66,297.96 L158.71,297.97 L160.75,297.62 L163.21,296.84 L180.4,289.84 L184.49,287.99 L186.54,287.33 L191.86,286.75 L197.18,286.5 L202.91,286.59 L209.87,287 L211.51,286.37 L213.55,285.21 L215.19,283.92 L216.83,282.18 L218.06,280.49 L219.29,278.39 L220.51,275.76 L221.74,272.47 L222.97,268.37 L225.02,259.14 L226.65,248.85 L228.29,235.03 L229.52,221.61 L230.75,204.85 L231.97,183.93 L233.2,157.8 L234.43,125.17 L236.48,51.78 L238.11,-29.99 L239.75,-139.94 L241.39,-287.8 L241.39,-203.14 L239.75,-76.98 L238.52,-4.08 L237.29,54.29 L236.07,101.04 L234.84,138.47 L232.79,185.04 L231.56,205.74 L230.34,222.32 L222.15,307.94 L220.51,321.01 L219.29,327.06 L218.47,328.88 L216.83,331.23 L215.19,332.97 L213.15,334.51 L211.51,335.39 L209.87,336 L203.32,336.66 L193.91,336.99 L183.27,336.41 L178.76,335.64 L164.44,332.26 L155.43,330.64 L146.84,329.77 L138.65,329.51 L132.1,329.74 L125.96,330.2 L121.87,330.94 L117.78,332.09 L114.09,333.48 L112.87,334.16 L111.64,335.27 L108.36,338.89 L107.14,339.91 L103.04,341.67 L99.77,342.51 L94.86,342.5 L85.03,341.77 L83.4,340.86 L80.94,338.25 L78.07,338.2 Z" fill="none" stroke="#B177DE" stroke-width="2" stroke-linejoin="round"/>
<path d="M78.07,319.2 L80.53,319.2 L80.94,319.02 L83.81,305.93 L87.08,289.18 L89.94,276.01 L91.17,271.39 L91.99,269.84 L92.4,269.7 L93.22,270.06 L95.27,272.38 L100.59,284.88 L101.81,286.96 L103.86,289.48 L105.5,290.87 L107.14,291.85 L118.6,297.25 L120.23,297.75 L121.46,297.79 L124.74,297.58 L128.83,297.03 L130.88,296.52 L139.06,293.68 L142.75,293.17 L146.02,293 L147.66,293.48 L150.52,295.26 L155.02,297.56 L156.66,298.14 L158.3,298.3 L165.26,297.98 L168.12,297.58 L176.31,295.69 L184.08,293.61 L187.36,292.99 L197.18,292.06 L209.87,291.4 L211.1,289.96 L212.74,287.41 L215.19,282.3 L217.24,276.48 L219.29,268.73 L221.33,258.42 L223.38,244.69 L225.42,226.43 L227.06,207.56 L228.7,183.83 L229.93,162.12 L231.56,126.73 L232.79,94.33 L235.25,10.23 L237.7,-108.28 L239.75,-243.31 L241.39,-382.86 L241.39,-304.08 L239.34,-153.94 L236.89,-22.17 L235.66,28.58 L234.02,84.04 L231.56,146.71 L230.34,170.85 L228.7,197.24 L225.02,248.04 L222.56,278.02 L220.51,297.6 L219.69,303.34 L218.88,307.6 L216.83,314.69 L214.78,319.95 L212.33,324.52 L210.69,326.78 L209.87,327.6 L194.73,330.55 L188.18,332.06 L184.49,332.5 L180.81,332.16 L166.89,329.5 L164.44,329.24 L161.57,329.21 L155.02,329.42 L149.7,329.81 L147.66,330.43 L142.75,332.55 L140.29,333 L138.65,332.64 L135.38,331.12 L130.47,329.77 L128.01,329.5 L123.92,329.7 L117.37,330.66 L113.68,331.43 L111.64,332.07 L105.91,335.02 L100.59,339.32 L98.54,340.63 L93.63,342.54 L88.31,343.88 L85.85,344.28 L84.62,344.18 L83.81,343.67 L82.99,342.81 L80.94,339.77 L78.07,339.7 Z" fill="none" stroke="#1A6FDF" stroke-width="2" stroke-linejoin="round"/>
<path d="M78.07,319 L80.53,319 L80.94,318.84 L83.81,308.58 L87.08,299.98 L89.94,293.84 L91.17,291.67 L91.99,290.78 L93.63,290.14 L96.08,289.63 L100.18,289.12 L102.63,289 L103.86,289.14 L105.91,289.75 L110.82,291.84 L116.14,294.63 L118.19,295.49 L122.69,296.57 L127.6,297.35 L134.15,297.93 L139.88,298.2 L150.93,298.29 L158.3,297.97 L160.75,297.51 L164.03,296.41 L172.22,293.11 L181.22,288.8 L185.31,287.48 L187.36,287.2 L193.91,286.87 L209.87,287 L211.1,286.68 L214.37,285.33 L217.24,283.41 L219.69,280.91 L221.74,277.93 L223.79,273.8 L225.42,269.38 L227.06,263.64 L228.7,256.19 L230.34,246.52 L231.56,237.43 L234.02,212.92 L236.07,183.75 L238.11,143.35 L239.75,100.09 L241.39,43.94 L241.39,92.17 L240.57,116.18 L238.11,172.16 L236.48,200.59 L234.84,224.68 L231.56,263.73 L229.93,279.53 L227.88,296.17 L225.83,309.48 L224.2,317.77 L222.56,323.92 L220.92,327.88 L219.69,329.4 L217.65,330.93 L215.6,331.97 L213.15,332.78 L200.05,335 L189.41,335.85 L184.08,336 L181.63,335.81 L178.35,335.16 L170.99,333.2 L164.44,332.01 L145.2,329.38 L140.29,329 L126.78,329.03 L123.92,329.31 L120.23,329.99 L113.28,331.74 L110,332.85 L105.5,334.73 L101,337.45 L98.95,338.16 L96.08,337.96 L90.35,336.57 L83.81,335.5 L80.94,335.11 L78.07,335.1 Z" fill="none" stroke="#CC9900" stroke-width="2" stroke-linejoin="round"/>
</g>
<rect x="80.8" y="266" width="129.2" height="91" fill="none" stroke="#000" stroke-width="1.8"/>
<line x1="90.64" y1="357" x2="90.64" y2="359.1" stroke="#000" stroke-width="1.3" stroke-linecap="butt"/>
<line x1="103.2" y1="357" x2="103.2" y2="359.9" stroke="#000" stroke-width="1.3" stroke-linecap="butt"/>
<line x1="115.76" y1="357" x2="115.76" y2="359.1" stroke="#000" stroke-width="1.3" stroke-linecap="butt"/>
<line x1="128.32" y1="357" x2="128.32" y2="359.9" stroke="#000" stroke-width="1.3" stroke-linecap="butt"/>
<line x1="140.89" y1="357" x2="140.89" y2="359.1" stroke="#000" stroke-width="1.3" stroke-linecap="butt"/>
<line x1="153.45" y1="357" x2="153.45" y2="359.9" stroke="#000" stroke-width="1.3" stroke-linecap="butt"/>
<line x1="166.01" y1="357" x2="166.01" y2="359.1" stroke="#000" stroke-width="1.3" stroke-linecap="butt"/>
<line x1="178.57" y1="357" x2="178.57" y2="359.9" stroke="#000" stroke-width="1.3" stroke-linecap="butt"/>
<line x1="191.14" y1="357" x2="191.14" y2="359.1" stroke="#000" stroke-width="1.3" stroke-linecap="butt"/>
<line x1="203.7" y1="357" x2="203.7" y2="359.9" stroke="#000" stroke-width="1.3" stroke-linecap="butt"/>
<text transform="translate(103.2,372) scale(1,1.05)" font-size="14" font-weight="bold" text-anchor="middle" fill="#000" >1.1</text>
<text transform="translate(128.32,372) scale(1,1.05)" font-size="14" font-weight="bold" text-anchor="middle" fill="#000" >1.2</text>
<text transform="translate(153.45,372) scale(1,1.05)" font-size="14" font-weight="bold" text-anchor="middle" fill="#000" >1.3</text>
<text transform="translate(178.57,372) scale(1,1.05)" font-size="14" font-weight="bold" text-anchor="middle" fill="#000" >1.4</text>
<text transform="translate(203.7,372) scale(1,1.05)" font-size="14" font-weight="bold" text-anchor="middle" fill="#000" >1.5</text>
<line x1="77.9" y1="352.4" x2="80.8" y2="352.4" stroke="#000" stroke-width="1.3" stroke-linecap="butt"/>
<line x1="78.7" y1="342.7" x2="80.8" y2="342.7" stroke="#000" stroke-width="1.3" stroke-linecap="butt"/>
<line x1="77.9" y1="333" x2="80.8" y2="333" stroke="#000" stroke-width="1.3" stroke-linecap="butt"/>
<line x1="78.7" y1="323.3" x2="80.8" y2="323.3" stroke="#000" stroke-width="1.3" stroke-linecap="butt"/>
<line x1="77.9" y1="313.6" x2="80.8" y2="313.6" stroke="#000" stroke-width="1.3" stroke-linecap="butt"/>
<line x1="78.7" y1="303.9" x2="80.8" y2="303.9" stroke="#000" stroke-width="1.3" stroke-linecap="butt"/>
<line x1="77.9" y1="294.2" x2="80.8" y2="294.2" stroke="#000" stroke-width="1.3" stroke-linecap="butt"/>
<line x1="78.7" y1="284.5" x2="80.8" y2="284.5" stroke="#000" stroke-width="1.3" stroke-linecap="butt"/>
<line x1="77.9" y1="274.8" x2="80.8" y2="274.8" stroke="#000" stroke-width="1.3" stroke-linecap="butt"/>
<text transform="translate(76,279.7) scale(1,1.05)" font-size="14" font-weight="bold" text-anchor="end" fill="#000" >2</text>
<text transform="translate(76,299.1) scale(1,1.05)" font-size="14" font-weight="bold" text-anchor="end" fill="#000" >1</text>
<text transform="translate(76,318.5) scale(1,1.05)" font-size="14" font-weight="bold" text-anchor="end" fill="#000" >0</text>
<text transform="translate(76,337.9) scale(1,1.05)" font-size="14" font-weight="bold" text-anchor="end" fill="#000" >-1</text>
<text transform="translate(76,357.3) scale(1,1.05)" font-size="14" font-weight="bold" text-anchor="end" fill="#000" >-2</text>
<text transform="translate(103.7,304) scale(1,1.06)" font-size="11" font-weight="bold" text-anchor="middle" fill="#000" >A1</text>
<text transform="translate(139.4,285.2) scale(1,1.06)" font-size="11" font-weight="bold" text-anchor="middle" fill="#000" >A2</text>
<text transform="translate(183.8,286.6) scale(1,1.06)" font-size="11" font-weight="bold" text-anchor="middle" fill="#000" >A3</text>
<text transform="translate(110.2,353) scale(1,1.06)" font-size="11" font-weight="bold" text-anchor="middle" fill="#000" >C1</text>
<text transform="translate(145.3,347.3) scale(1,1.06)" font-size="11" font-weight="bold" text-anchor="middle" fill="#000" >C2</text>
<text transform="translate(189.7,353.6) scale(1,1.06)" font-size="11" font-weight="bold" text-anchor="middle" fill="#000" >C3</text>
<line x1="217.7" y1="281.4" x2="245" y2="281.4" stroke="#515151" stroke-width="2.2" stroke-linecap="butt"/>
<text x="248.2" y="285.5" font-size="11.5" font-weight="bold" fill="#000">1<tspan font-size="8.6" dy="-4.8">st</tspan></text>
<line x1="217.7" y1="297.9" x2="245" y2="297.9" stroke="#F14040" stroke-width="2.2" stroke-linecap="butt"/>
<text x="248.2" y="302" font-size="11.5" font-weight="bold" fill="#000">10<tspan font-size="8.6" dy="-4.8">th</tspan></text>
<line x1="217.7" y1="314.4" x2="245" y2="314.4" stroke="#1A6FDF" stroke-width="2.2" stroke-linecap="butt"/>
<text x="248.2" y="318.5" font-size="11.5" font-weight="bold" fill="#000">100<tspan font-size="8.6" dy="-4.8">th</tspan></text>
<line x1="217.7" y1="330.9" x2="245" y2="330.9" stroke="#37AD6B" stroke-width="2.2" stroke-linecap="butt"/>
<text x="248.2" y="335" font-size="11.5" font-weight="bold" fill="#000">500<tspan font-size="8.6" dy="-4.8">th</tspan></text>
<line x1="217.7" y1="347.4" x2="245" y2="347.4" stroke="#B177DE" stroke-width="2.2" stroke-linecap="butt"/>
<text x="248.2" y="351.5" font-size="11.5" font-weight="bold" fill="#000">1000<tspan font-size="8.6" dy="-4.8">th</tspan></text>
<line x1="217.7" y1="363.9" x2="245" y2="363.9" stroke="#CC9900" stroke-width="2.2" stroke-linecap="butt"/>
<text x="248.2" y="368" font-size="11.5" font-weight="bold" fill="#000">2000<tspan font-size="8.6" dy="-4.8">th</tspan></text>
<text transform="translate(168.2,480.6) scale(1,1.13)" font-size="15.35" font-weight="bold" text-anchor="middle" fill="#000">E−<tspan font-style="italic">iR</tspan> (V vs. RHE)</text>
<text transform="translate(31,348.4) rotate(-90) scale(1,1.12)" x="0" y="0" font-size="15.35" font-weight="bold" text-anchor="middle" fill="#000">Current density (mA cm<tspan font-size="10.4" dy="-5.7">-2</tspan><tspan dy="5.7">)</tspan></text>
<text x="2" y="259.5" font-size="22" font-weight="bold" text-anchor="start" fill="#000" >c</text>
<clipPath id="clipD"><rect x="407.5" y="257.3" width="259.79999999999995" height="182.5"/></clipPath>
<g clip-path="url(#clipD)">
<path d="M407.5,410.26 L409.92,408.49 L412.34,407.23 L415.96,405.93 L418.98,405.29 L423.82,404.65 L430.47,404.07 L455.25,402.96 L466.73,402 L474.59,400.43 L486.67,396.7 L492.11,395.72 L496.95,395.75 L505.41,396.43 L524.75,399.47 L532.61,400.01 L538.65,400 L547.11,399.58 L557.39,398.3 L563.43,397.19 L571.29,395.05 L579.75,393.38 L583.98,393.31 L591.84,393.63 L600.3,394.5 L609.36,395.13 L612.99,394.36 L617.83,392.28 L620.85,390.36 L623.87,387.78 L626.29,385.06 L628.71,381.61 L631.12,377.21 L632.94,373.14 L635.35,366.44 L637.17,360.23 L640.19,347.03 L643.21,329.18 L646.23,305.05 L648.65,279.75 L647.44,315.26 L646.23,334.49 L645.63,340.97 L644.42,350.58 L643.21,357.64 L641.4,365.86 L638.98,374.5 L636.56,381.53 L633.54,388.68 L630.52,394.38 L627.5,398.95 L623.87,403.24 L619.64,406.99 L615.41,409.73 L610.57,412.15 L609.36,412.59 L580.96,414.81 L573.71,415.13 L568.27,415.11 L541.67,413.49 L530.19,413.32 L511.45,414.9 L492.11,417.48 L488.49,417.74 L484.86,417.55 L478.82,416.8 L467.94,414.65 L461.89,413.75 L446.18,412.09 L437.72,411.44 L428.65,411 L407.5,410.6 Z" fill="none" stroke="#515151" stroke-width="2" stroke-linejoin="round"/>
<path d="M407.5,410.44 L409.92,408.68 L412.34,407.42 L415.96,406.12 L418.98,405.47 L423.82,404.83 L430.47,404.26 L455.25,403.14 L466.73,402.19 L474.59,400.61 L486.67,396.89 L492.11,395.9 L496.95,395.94 L505.41,396.62 L524.75,399.65 L532,400.17 L538.05,400.2 L547.11,399.77 L557.39,398.49 L563.43,397.37 L571.29,395.24 L579.75,393.57 L583.98,393.5 L591.84,393.82 L600.3,394.68 L609.36,395.32 L612.99,394.65 L617.83,392.79 L620.85,391.08 L623.87,388.76 L626.29,386.34 L628.71,383.25 L631.12,379.32 L632.94,375.69 L635.35,369.69 L637.17,364.15 L640.19,352.35 L643.21,336.4 L646.23,314.83 L648.65,292.23 L647.44,324.42 L646.23,341.86 L645.63,347.74 L644.42,356.46 L643.21,362.86 L641.4,370.31 L638.98,378.14 L636.56,384.52 L633.54,391 L630.52,396.18 L627.5,400.32 L623.87,404.21 L619.64,407.61 L615.41,410.1 L609.36,412.71 L580.96,414.93 L573.71,415.25 L568.27,415.24 L541.67,413.61 L530.19,413.45 L511.45,415.02 L492.11,417.61 L488.49,417.86 L484.86,417.67 L478.82,416.92 L467.94,414.78 L461.89,413.88 L446.18,412.21 L437.72,411.56 L428.65,411.12 L407.5,410.72 Z" fill="none" stroke="#F14040" stroke-width="2" stroke-linejoin="round"/>
<path d="M407.5,410.35 L409.92,408.58 L412.34,407.33 L415.96,406.03 L418.98,405.38 L423.82,404.74 L430.47,404.17 L455.25,403.05 L466.73,402.09 L474.59,400.52 L486.67,396.8 L492.11,395.81 L496.95,395.84 L505.41,396.53 L524.75,399.56 L532,400.08 L538.05,400.1 L547.11,399.68 L557.39,398.4 L563.43,397.28 L571.29,395.15 L579.75,393.47 L583.98,393.4 L591.84,393.72 L600.3,394.59 L609.36,395.22 L612.99,394.64 L617.83,392.96 L620.85,391.41 L623.87,389.32 L626.29,387.14 L628.71,384.35 L631.12,380.81 L632.94,377.52 L635.35,372.12 L637.17,367.11 L640.19,356.46 L643.21,342.07 L646.23,322.61 L648.65,302.21 L647.44,331.71 L646.23,347.69 L645.63,353.08 L644.42,361.07 L643.21,366.94 L641.4,373.77 L638.98,380.95 L636.56,386.79 L633.54,392.73 L630.52,397.47 L627.5,401.27 L623.87,404.83 L619.64,407.95 L615.41,410.23 L609.36,412.65 L580.96,414.87 L573.71,415.19 L568.27,415.18 L541.67,413.55 L530.19,413.38 L511.45,414.96 L492.11,417.55 L488.49,417.8 L484.86,417.61 L478.82,416.86 L467.94,414.72 L461.89,413.81 L446.18,412.15 L437.72,411.5 L428.65,411.06 L407.5,410.66 Z" fill="none" stroke="#1A6FDF" stroke-width="2" stroke-linejoin="round"/>
<path d="M407.5,410.13 L409.92,408.37 L412.34,407.11 L415.96,405.81 L418.98,405.16 L423.82,404.52 L430.47,403.95 L455.25,402.83 L466.73,401.88 L475.19,400.15 L487.28,396.42 L492.72,395.54 L499.97,395.81 L506.62,396.45 L524.75,399.34 L532,399.86 L537.44,399.9 L546.51,399.51 L556.78,398.27 L563.43,397.06 L570.68,395.08 L576.12,393.87 L580.35,393.2 L591.84,393.51 L600.3,394.37 L609.36,395.01 L612.99,394.56 L618.43,392.98 L621.45,391.65 L624.47,389.86 L626.89,387.97 L629.31,385.57 L631.73,382.52 L633.54,379.7 L635.35,376.32 L637.17,372.26 L640.19,363.63 L643.21,351.97 L646.23,336.2 L648.65,319.68 L647.44,344.53 L646.23,357.99 L645.02,366.19 L643.81,371.88 L642.61,376.28 L640.79,381.59 L638.38,387.32 L635.96,392.01 L632.94,396.79 L629.91,400.61 L626.89,403.67 L623.27,406.54 L619.04,409.05 L614.8,410.89 L609.36,412.74 L580.35,415 L573.1,415.3 L568.27,415.27 L541.67,413.64 L530.19,413.48 L511.45,415.05 L492.11,417.64 L488.49,417.89 L484.86,417.7 L478.82,416.95 L467.94,414.81 L461.89,413.91 L446.18,412.24 L437.72,411.6 L428.65,411.16 L407.5,410.75 Z" fill="none" stroke="#37AD6B" stroke-width="2" stroke-linejoin="round"/>
<path d="M407.5,410.26 L410.52,408.12 L413.54,406.74 L416.57,405.77 L420.8,405.01 L431.07,404.03 L454.04,403.02 L473.38,401.48 L480.63,400.5 L489.7,398.67 L495.74,397.75 L498.76,397.72 L505.41,398.15 L524.15,399.76 L536.84,400.01 L544.09,399.48 L548.93,398.91 L560.41,397.1 L571.29,394.98 L578.54,394.07 L583.98,393.94 L609.36,394.23 L612.99,393.88 L617.83,393.03 L623.87,391.3 L628.71,389.05 L632.94,386.09 L636.56,382.49 L640.19,377.51 L643.21,371.92 L646.23,364.58 L648.65,357.1 L647.44,370.71 L646.84,374.97 L645.63,380.83 L644.42,384.72 L643.21,387.64 L641.4,391.09 L638.98,394.74 L636.56,397.71 L633.54,400.73 L630.52,403.13 L627.5,405.05 L623.87,406.84 L620.24,408.21 L616.62,409.25 L609.97,410.77 L573.71,413.93 L564.64,413.88 L538.65,412.79 L529.59,412.67 L517.5,413.35 L498.16,415.39 L488.49,415.69 L477.61,415.15 L471.56,414.4 L454.04,412.69 L439.53,411.52 L422.01,410.83 L407.5,410.6 Z" fill="none" stroke="#B177DE" stroke-width="2" stroke-linejoin="round"/>
</g>
<rect x="407.5" y="257.3" width="259.8" height="182.5" fill="none" stroke="#000" stroke-width="2"/>
<line x1="407.5" y1="439.8" x2="407.5" y2="444.6" stroke="#000" stroke-width="1.6" stroke-linecap="butt"/>
<line x1="426.05" y1="439.8" x2="426.05" y2="442.5" stroke="#000" stroke-width="1.6" stroke-linecap="butt"/>
<line x1="444.6" y1="439.8" x2="444.6" y2="444.6" stroke="#000" stroke-width="1.6" stroke-linecap="butt"/>
<line x1="463.15" y1="439.8" x2="463.15" y2="442.5" stroke="#000" stroke-width="1.6" stroke-linecap="butt"/>
<line x1="481.7" y1="439.8" x2="481.7" y2="444.6" stroke="#000" stroke-width="1.6" stroke-linecap="butt"/>
<line x1="500.25" y1="439.8" x2="500.25" y2="442.5" stroke="#000" stroke-width="1.6" stroke-linecap="butt"/>
<line x1="518.8" y1="439.8" x2="518.8" y2="444.6" stroke="#000" stroke-width="1.6" stroke-linecap="butt"/>
<line x1="537.35" y1="439.8" x2="537.35" y2="442.5" stroke="#000" stroke-width="1.6" stroke-linecap="butt"/>
<line x1="555.9" y1="439.8" x2="555.9" y2="444.6" stroke="#000" stroke-width="1.6" stroke-linecap="butt"/>
<line x1="574.45" y1="439.8" x2="574.45" y2="442.5" stroke="#000" stroke-width="1.6" stroke-linecap="butt"/>
<line x1="593" y1="439.8" x2="593" y2="444.6" stroke="#000" stroke-width="1.6" stroke-linecap="butt"/>
<line x1="611.55" y1="439.8" x2="611.55" y2="442.5" stroke="#000" stroke-width="1.6" stroke-linecap="butt"/>
<line x1="630.1" y1="439.8" x2="630.1" y2="444.6" stroke="#000" stroke-width="1.6" stroke-linecap="butt"/>
<line x1="648.65" y1="439.8" x2="648.65" y2="442.5" stroke="#000" stroke-width="1.6" stroke-linecap="butt"/>
<line x1="667.2" y1="439.8" x2="667.2" y2="444.6" stroke="#000" stroke-width="1.6" stroke-linecap="butt"/>
<text transform="translate(407.5,460.1) scale(1,1.14)" font-size="15" font-weight="bold" text-anchor="middle" fill="#000" >1.0</text>
<text transform="translate(444.6,460.1) scale(1,1.14)" font-size="15" font-weight="bold" text-anchor="middle" fill="#000" >1.1</text>
<text transform="translate(481.7,460.1) scale(1,1.14)" font-size="15" font-weight="bold" text-anchor="middle" fill="#000" >1.2</text>
<text transform="translate(518.8,460.1) scale(1,1.14)" font-size="15" font-weight="bold" text-anchor="middle" fill="#000" >1.3</text>
<text transform="translate(555.9,460.1) scale(1,1.14)" font-size="15" font-weight="bold" text-anchor="middle" fill="#000" >1.4</text>
<text transform="translate(593,460.1) scale(1,1.14)" font-size="15" font-weight="bold" text-anchor="middle" fill="#000" >1.5</text>
<text transform="translate(630.1,460.1) scale(1,1.14)" font-size="15" font-weight="bold" text-anchor="middle" fill="#000" >1.6</text>
<text transform="translate(667.2,460.1) scale(1,1.14)" font-size="15" font-weight="bold" text-anchor="middle" fill="#000" >1.7</text>
<line x1="402.7" y1="440.27" x2="407.5" y2="440.27" stroke="#000" stroke-width="1.6" stroke-linecap="butt"/>
<line x1="404.8" y1="423.63" x2="407.5" y2="423.63" stroke="#000" stroke-width="1.6" stroke-linecap="butt"/>
<line x1="402.7" y1="407" x2="407.5" y2="407" stroke="#000" stroke-width="1.6" stroke-linecap="butt"/>
<line x1="404.8" y1="390.37" x2="407.5" y2="390.37" stroke="#000" stroke-width="1.6" stroke-linecap="butt"/>
<line x1="402.7" y1="373.73" x2="407.5" y2="373.73" stroke="#000" stroke-width="1.6" stroke-linecap="butt"/>
<line x1="404.8" y1="357.1" x2="407.5" y2="357.1" stroke="#000" stroke-width="1.6" stroke-linecap="butt"/>
<line x1="402.7" y1="340.47" x2="407.5" y2="340.47" stroke="#000" stroke-width="1.6" stroke-linecap="butt"/>
<line x1="404.8" y1="323.83" x2="407.5" y2="323.83" stroke="#000" stroke-width="1.6" stroke-linecap="butt"/>
<line x1="402.7" y1="307.2" x2="407.5" y2="307.2" stroke="#000" stroke-width="1.6" stroke-linecap="butt"/>
<line x1="404.8" y1="290.57" x2="407.5" y2="290.57" stroke="#000" stroke-width="1.6" stroke-linecap="butt"/>
<line x1="402.7" y1="273.93" x2="407.5" y2="273.93" stroke="#000" stroke-width="1.6" stroke-linecap="butt"/>
<line x1="404.8" y1="257.3" x2="407.5" y2="257.3" stroke="#000" stroke-width="1.6" stroke-linecap="butt"/>
<text transform="translate(399.3,445.27) scale(1,1.14)" font-size="15" font-weight="bold" text-anchor="end" fill="#000" >-4</text>
<text transform="translate(399.3,412) scale(1,1.14)" font-size="15" font-weight="bold" text-anchor="end" fill="#000" >0</text>
<text transform="translate(399.3,378.73) scale(1,1.14)" font-size="15" font-weight="bold" text-anchor="end" fill="#000" >4</text>
<text transform="translate(399.3,345.47) scale(1,1.14)" font-size="15" font-weight="bold" text-anchor="end" fill="#000" >8</text>
<text transform="translate(399.3,312.2) scale(1,1.14)" font-size="15" font-weight="bold" text-anchor="end" fill="#000" >12</text>
<text transform="translate(399.3,278.93) scale(1,1.14)" font-size="15" font-weight="bold" text-anchor="end" fill="#000" >16</text>
<rect x="425.4" y="261.6" width="130.20000000000005" height="91.39999999999998" fill="#fff"/>
<clipPath id="clipDi"><rect x="425.4" y="261.6" width="130.20000000000005" height="91.39999999999998"/></clipPath>
<g clip-path="url(#clipDi)">
<path d="M425.4,320.7 L426.93,315.01 L428.47,310.95 L430.77,306.76 L432.69,304.68 L435.76,302.62 L439.98,300.77 L443.82,299.65 L451.87,298.15 L455.71,297.17 L459.54,295.84 L463,294.09 L465.3,292.1 L467.98,289.02 L475.66,277.02 L476.81,275.67 L479.11,273.84 L480.26,273.61 L482.18,273.94 L484.87,274.81 L487.55,276.15 L490.62,278.21 L497.91,284.6 L499.83,285.92 L502.9,287.15 L504.81,287.66 L506.35,287.8 L508.65,287.63 L512.1,286.98 L514.02,286.3 L518.24,283.85 L520.54,282.17 L524.38,278.58 L529.37,271.71 L532.82,267.87 L534.74,266.31 L535.89,266 L537.42,266.09 L542.41,267.12 L547.78,269.91 L553.54,271.96 L554.31,271.46 L555.84,269.47 L557.37,266.52 L558.91,262.76 L560.83,256.59 L562.75,248.25 L564.28,239.51 L565.81,228.38 L567.35,214.21 L568.5,201.1 L570.03,179.48 L571.19,159.48 L573.1,116.95 L575.02,59.43 L576.94,-18.33 L578.47,-99.84 L577.71,14.56 L576.94,76.52 L575.79,128.39 L573.87,177.62 L572.34,205.46 L570.8,228.12 L568.88,251.15 L566.97,269.55 L565.05,284.26 L562.75,298.08 L560.06,310.16 L557.37,319 L554.31,326.81 L553.54,328.2 L535.51,335.36 L530.9,336.39 L529.37,336.5 L527.45,336.35 L520.54,334.59 L510.57,331.1 L506.35,330.59 L503.28,330.57 L500.59,331.38 L491.39,335.64 L487.93,337.65 L483.33,341.11 L479.11,343.98 L477.96,344.57 L476.81,344.8 L475.66,344.64 L474.51,344.19 L470.67,341.77 L463.76,334.87 L459.93,331.96 L455.32,329.18 L449.95,326.59 L444.58,324.51 L438.83,323.09 L431.92,322.18 L425.4,321.8 Z" fill="none" stroke="#515151" stroke-width="2" stroke-linejoin="round"/>
<path d="M425.4,321.3 L426.93,315.61 L428.47,311.55 L430.77,307.36 L432.69,305.28 L435.76,303.22 L439.98,301.37 L443.82,300.25 L451.87,298.75 L455.71,297.77 L459.54,296.44 L463,294.69 L465.3,292.7 L467.98,289.62 L475.66,277.62 L476.81,276.27 L479.11,274.44 L480.26,274.21 L482.18,274.54 L484.87,275.41 L487.55,276.75 L490.62,278.81 L497.91,285.2 L499.83,286.52 L504.43,288.19 L505.97,288.39 L508.27,288.28 L512.1,287.58 L514.02,286.9 L518.24,284.45 L520.54,282.77 L524.38,279.18 L529.37,272.31 L532.82,268.47 L534.74,266.91 L535.89,266.6 L537.42,266.69 L542.41,267.72 L547.78,270.51 L553.54,272.56 L554.31,272.13 L555.84,270.39 L557.37,267.75 L558.91,264.4 L560.83,258.88 L562.75,251.43 L564.28,243.61 L565.81,233.67 L567.35,221.01 L568.5,209.29 L570.03,189.98 L571.19,172.1 L573.1,134.09 L575.02,82.7 L576.94,13.2 L578.47,-59.64 L577.71,44.1 L576.94,100.29 L575.79,147.33 L573.87,191.97 L572.34,217.21 L570.8,237.76 L568.88,258.64 L566.97,275.33 L565.05,288.67 L562.75,301.21 L560.06,312.16 L557.37,320.18 L554.31,327.31 L553.54,328.6 L535.51,335.76 L530.9,336.79 L529.37,336.9 L527.45,336.75 L520.54,334.99 L510.57,331.5 L506.35,330.99 L503.28,330.97 L500.59,331.78 L491.39,336.04 L487.93,338.05 L483.33,341.51 L479.11,344.38 L477.96,344.97 L476.81,345.2 L475.66,345.04 L474.51,344.59 L470.67,342.17 L463.76,335.27 L459.93,332.36 L455.32,329.58 L449.95,326.99 L444.58,324.91 L438.83,323.49 L431.92,322.58 L425.4,322.2 Z" fill="none" stroke="#F14040" stroke-width="2" stroke-linejoin="round"/>
<path d="M425.4,321 L426.93,315.31 L428.47,311.25 L430.77,307.06 L432.69,304.98 L435.76,302.92 L439.98,301.07 L443.82,299.95 L451.87,298.45 L455.71,297.47 L459.54,296.14 L463,294.39 L465.3,292.4 L467.98,289.32 L475.66,277.32 L476.81,275.97 L479.11,274.14 L480.26,273.91 L482.18,274.24 L484.87,275.11 L487.55,276.45 L490.62,278.51 L497.91,284.9 L499.83,286.22 L504.43,287.89 L505.97,288.09 L508.27,287.98 L512.1,287.28 L514.02,286.6 L518.24,284.15 L520.54,282.47 L524.38,278.88 L529.37,272.01 L532.82,268.17 L534.74,266.61 L535.89,266.3 L537.42,266.39 L542.41,267.42 L547.78,270.21 L553.54,272.26 L554.31,271.9 L555.84,270.36 L557.37,267.97 L558.91,264.95 L560.83,259.97 L562.75,253.24 L564.28,246.19 L565.81,237.22 L567.35,225.79 L568.5,215.22 L570.03,197.79 L571.19,181.66 L573.1,147.35 L575.02,100.97 L576.94,38.25 L578.47,-27.48 L577.71,67.59 L576.94,119.09 L575.79,162.2 L573.87,203.11 L572.34,226.24 L570.8,245.07 L568.88,264.21 L566.97,279.5 L565.05,291.73 L562.75,303.22 L560.06,313.26 L557.37,320.61 L554.31,327.19 L553.54,328.4 L535.51,335.56 L530.9,336.59 L529.37,336.7 L527.45,336.55 L520.54,334.79 L510.57,331.3 L506.35,330.79 L503.28,330.77 L500.59,331.58 L491.39,335.84 L487.93,337.85 L483.33,341.31 L479.11,344.18 L477.96,344.77 L476.81,345 L475.66,344.84 L474.51,344.39 L470.67,341.97 L463.76,335.07 L459.93,332.16 L455.32,329.38 L449.95,326.79 L444.58,324.71 L438.83,323.29 L431.92,322.38 L425.4,322 Z" fill="none" stroke="#1A6FDF" stroke-width="2" stroke-linejoin="round"/>
<path d="M425.4,320.3 L426.93,314.61 L428.47,310.55 L430.77,306.36 L432.69,304.28 L435.76,302.22 L439.98,300.37 L443.82,299.25 L451.87,297.75 L455.71,296.77 L459.54,295.44 L463,293.69 L465.3,291.7 L468.37,288.13 L472.97,280.6 L476.04,276.12 L477.96,274.26 L479.49,273.28 L481.03,273.29 L484.1,274.13 L486.02,274.92 L488.32,276.21 L490.62,277.81 L497.91,284.2 L499.83,285.52 L504.43,287.19 L505.97,287.39 L507.88,287.32 L511.72,286.66 L513.64,286.07 L516.32,284.64 L520.16,282.08 L524.38,278.18 L528.98,271.78 L532.44,267.88 L533.97,266.41 L535.12,265.75 L535.89,265.6 L537.81,265.73 L542.41,266.72 L547.78,269.51 L553.54,271.56 L554.31,271.31 L555.84,270.12 L557.76,267.63 L559.29,265.02 L561.21,260.74 L563.13,254.95 L564.66,248.88 L566.2,241.16 L567.73,231.33 L568.88,222.23 L571.19,198.25 L573.1,170.46 L575.02,132.88 L576.94,82.06 L578.47,28.8 L577.71,108.88 L576.94,152.26 L576.17,178.7 L575.41,197.04 L573.49,228.33 L571.95,246.77 L570.42,261.9 L568.5,277.31 L566.58,289.62 L564.66,299.47 L562.36,308.72 L559.68,316.81 L556.99,322.73 L553.92,328.31 L553.54,328.7 L535.12,335.97 L530.52,336.93 L527.45,336.85 L520.54,335.09 L510.57,331.6 L506.35,331.09 L503.28,331.07 L500.59,331.88 L491.39,336.14 L487.93,338.15 L483.33,341.61 L479.11,344.48 L477.96,345.07 L476.81,345.3 L475.66,345.14 L474.51,344.69 L470.67,342.27 L463.76,335.37 L459.93,332.46 L455.32,329.68 L449.95,327.09 L444.58,325.01 L438.83,323.59 L431.92,322.68 L425.4,322.3 Z" fill="none" stroke="#37AD6B" stroke-width="2" stroke-linejoin="round"/>
<path d="M425.4,320.7 L427.32,313.81 L429.24,309.37 L431.15,306.24 L432.31,305.02 L433.84,303.79 L436.53,302.23 L440.36,300.64 L444.2,299.56 L451.49,298.23 L454.94,297.37 L458.39,296.11 L467.22,292.41 L469.52,291.05 L471.82,289.26 L474.12,287.2 L477.58,283.37 L480.26,281.08 L481.41,280.39 L482.18,280.2 L483.33,280.3 L487.55,281.69 L493.31,284.13 L497.53,286.18 L499.44,286.87 L504.43,287.71 L507.5,287.68 L509.42,287.1 L512.1,285.95 L515.17,284.12 L519.01,281.22 L522.46,278.3 L529.37,271.46 L532.44,269.37 L533.97,268.55 L535.51,268.12 L537.42,268.12 L553.54,269.04 L555.84,267.91 L558.91,265.19 L560.83,262.77 L562.75,259.6 L564.28,256.37 L565.81,252.35 L567.35,247.35 L568.5,242.83 L570.8,231.23 L573.1,215.17 L575.02,197.16 L576.94,173.52 L578.47,149.4 L577.71,193.27 L576.56,225.85 L575.02,247.83 L573.87,258.93 L572.34,270.69 L570.8,280.27 L568.88,289.99 L566.97,297.73 L565.05,303.9 L562.75,309.68 L560.44,314.09 L558.14,317.45 L553.92,322.36 L539.34,328.79 L533.59,331.64 L530.9,332.53 L528.6,332.69 L525.15,332.37 L519.01,331.3 L513.26,329.76 L508.65,328.87 L505.58,328.46 L502.9,328.48 L499.83,329.14 L495.22,330.66 L482.95,337.23 L479.49,337.97 L476.81,338.2 L473.74,337.76 L469.9,336.46 L466.07,334.03 L461.85,332.19 L454.94,328.52 L449.19,326.03 L445.73,324.76 L443.05,324.05 L434.61,322.55 L429.62,321.97 L425.4,321.8 Z" fill="none" stroke="#B177DE" stroke-width="2" stroke-linejoin="round"/>
</g>
<rect x="425.4" y="261.6" width="130.2" height="91.4" fill="none" stroke="#000" stroke-width="1.8"/>
<line x1="425.4" y1="353" x2="425.4" y2="355.9" stroke="#000" stroke-width="1.3" stroke-linecap="butt"/>
<line x1="437.18" y1="353" x2="437.18" y2="355.1" stroke="#000" stroke-width="1.3" stroke-linecap="butt"/>
<line x1="448.95" y1="353" x2="448.95" y2="355.9" stroke="#000" stroke-width="1.3" stroke-linecap="butt"/>
<line x1="460.72" y1="353" x2="460.72" y2="355.1" stroke="#000" stroke-width="1.3" stroke-linecap="butt"/>
<line x1="472.5" y1="353" x2="472.5" y2="355.9" stroke="#000" stroke-width="1.3" stroke-linecap="butt"/>
<line x1="484.27" y1="353" x2="484.27" y2="355.1" stroke="#000" stroke-width="1.3" stroke-linecap="butt"/>
<line x1="496.05" y1="353" x2="496.05" y2="355.9" stroke="#000" stroke-width="1.3" stroke-linecap="butt"/>
<line x1="507.82" y1="353" x2="507.82" y2="355.1" stroke="#000" stroke-width="1.3" stroke-linecap="butt"/>
<line x1="519.6" y1="353" x2="519.6" y2="355.9" stroke="#000" stroke-width="1.3" stroke-linecap="butt"/>
<line x1="531.38" y1="353" x2="531.38" y2="355.1" stroke="#000" stroke-width="1.3" stroke-linecap="butt"/>
<line x1="543.15" y1="353" x2="543.15" y2="355.9" stroke="#000" stroke-width="1.3" stroke-linecap="butt"/>
<line x1="554.92" y1="353" x2="554.92" y2="355.1" stroke="#000" stroke-width="1.3" stroke-linecap="butt"/>
<text transform="translate(425.4,366.6) scale(1,1.05)" font-size="13" font-weight="bold" text-anchor="middle" fill="#000" >1.0</text>
<text transform="translate(472.5,366.6) scale(1,1.05)" font-size="13" font-weight="bold" text-anchor="middle" fill="#000" >1.2</text>
<text transform="translate(519.6,366.6) scale(1,1.05)" font-size="13" font-weight="bold" text-anchor="middle" fill="#000" >1.4</text>
<line x1="423.3" y1="350.4" x2="425.4" y2="350.4" stroke="#000" stroke-width="1.3" stroke-linecap="butt"/>
<line x1="422.5" y1="337" x2="425.4" y2="337" stroke="#000" stroke-width="1.3" stroke-linecap="butt"/>
<line x1="423.3" y1="323.6" x2="425.4" y2="323.6" stroke="#000" stroke-width="1.3" stroke-linecap="butt"/>
<line x1="422.5" y1="310.2" x2="425.4" y2="310.2" stroke="#000" stroke-width="1.3" stroke-linecap="butt"/>
<line x1="423.3" y1="296.8" x2="425.4" y2="296.8" stroke="#000" stroke-width="1.3" stroke-linecap="butt"/>
<line x1="422.5" y1="283.4" x2="425.4" y2="283.4" stroke="#000" stroke-width="1.3" stroke-linecap="butt"/>
<line x1="423.3" y1="270" x2="425.4" y2="270" stroke="#000" stroke-width="1.3" stroke-linecap="butt"/>
<text transform="translate(420.5,288) scale(1,1.05)" font-size="13" font-weight="bold" text-anchor="end" fill="#000" >1</text>
<text transform="translate(420.5,314.8) scale(1,1.05)" font-size="13" font-weight="bold" text-anchor="end" fill="#000" >0</text>
<text transform="translate(420.5,341.6) scale(1,1.05)" font-size="13" font-weight="bold" text-anchor="end" fill="#000" >-1</text>
<text transform="translate(442.8,295.1) scale(1,1.06)" font-size="11" font-weight="bold" text-anchor="middle" fill="#000" >A1</text>
<text transform="translate(470.2,277.6) scale(1,1.06)" font-size="11" font-weight="bold" text-anchor="middle" fill="#000" >A2</text>
<text transform="translate(538.1,291.4) scale(1,1.06)" font-size="11" font-weight="bold" text-anchor="middle" fill="#000" >A3</text>
<text transform="translate(442.8,342.2) scale(1,1.06)" font-size="11" font-weight="bold" text-anchor="middle" fill="#000" >C1</text>
<text transform="translate(497.6,351) scale(1,1.06)" font-size="11" font-weight="bold" text-anchor="middle" fill="#000" >C2</text>
<text transform="translate(538.1,351.4) scale(1,1.06)" font-size="11" font-weight="bold" text-anchor="middle" fill="#000" >C3</text>
<line x1="563.5" y1="274.7" x2="593.4" y2="274.7" stroke="#515151" stroke-width="2.2" stroke-linecap="butt"/>
<text x="597.5" y="279.1" font-size="12" font-weight="bold" fill="#000">1<tspan font-size="9" dy="-5">st</tspan></text>
<line x1="563.5" y1="292.45" x2="593.4" y2="292.45" stroke="#F14040" stroke-width="2.2" stroke-linecap="butt"/>
<text x="597.5" y="296.85" font-size="12" font-weight="bold" fill="#000">10<tspan font-size="9" dy="-5">th</tspan></text>
<line x1="563.5" y1="310.2" x2="593.4" y2="310.2" stroke="#1A6FDF" stroke-width="2.2" stroke-linecap="butt"/>
<text x="597.5" y="314.6" font-size="12" font-weight="bold" fill="#000">100<tspan font-size="9" dy="-5">th</tspan></text>
<line x1="563.5" y1="327.95" x2="593.4" y2="327.95" stroke="#37AD6B" stroke-width="2.2" stroke-linecap="butt"/>
<text x="597.5" y="332.35" font-size="12" font-weight="bold" fill="#000">500<tspan font-size="9" dy="-5">th</tspan></text>
<line x1="563.5" y1="345.7" x2="593.4" y2="345.7" stroke="#B177DE" stroke-width="2.2" stroke-linecap="butt"/>
<text x="597.5" y="350.1" font-size="12" font-weight="bold" fill="#000">1000<tspan font-size="9" dy="-5">th</tspan></text>
<text transform="translate(513.9,480.6) scale(1,1.13)" font-size="15.35" font-weight="bold" text-anchor="middle" fill="#000">E−<tspan font-style="italic">iR</tspan> (V vs. RHE)</text>
<text transform="translate(377,348.7) rotate(-90) scale(1,1.12)" x="0" y="0" font-size="15.35" font-weight="bold" text-anchor="middle" fill="#000">Current density (mA cm<tspan font-size="10.4" dy="-5.7">-2</tspan><tspan dy="5.7">)</tspan></text>
<text x="342" y="261.8" font-size="22" font-weight="bold" text-anchor="start" fill="#000" >d</text>
<defs>
<radialGradient id="sph" cx="0.36" cy="0.32" r="0.7" fx="0.3" fy="0.26">
<stop offset="0" stop-color="#ffd0d0"/><stop offset="0.22" stop-color="#ff5050"/><stop offset="0.7" stop-color="#ff1010"/><stop offset="1" stop-color="#e00000"/>
</radialGradient></defs>
<rect x="81.9" y="596.43" width="9" height="9" fill="#3FCDD8" fill-opacity="0.92"/>
<rect x="84.06" y="601.27" width="9" height="9" fill="#3FCDD8" fill-opacity="0.92"/>
<rect x="103.51" y="606.11" width="9" height="9" fill="#3FCDD8" fill-opacity="0.92"/>
<rect x="189.95" y="613.86" width="9" height="9" fill="#3FCDD8" fill-opacity="0.92"/>
<rect x="298" y="645.8" width="9" height="9" fill="#3FCDD8" fill-opacity="0.92"/>
<circle cx="86.4" cy="572.86" r="5.1" fill="url(#sph)" fill-opacity="0.92"/>
<circle cx="88.56" cy="562.21" r="5.1" fill="url(#sph)" fill-opacity="0.92"/>
<circle cx="108.01" cy="509.94" r="5.1" fill="url(#sph)" fill-opacity="0.92"/>
<circle cx="194.45" cy="522.52" r="5.1" fill="url(#sph)" fill-opacity="0.92"/>
<circle cx="302.5" cy="529.78" r="5.1" fill="url(#sph)" fill-opacity="0.92"/>
<path d="M86.4,600.93 C87.12,602.73 87.84,603.97 88.56,605.77 C95.04,607.72 101.53,609.32 108.01,610.61 C136.82,611.48 165.64,614.03 194.45,618.36 C230.47,628.8 266.48,639.5 302.5,650.3" fill="none" stroke="#3FCDD8" stroke-width="2.2" stroke-linecap="round"/>
<path d="M86.4,572.86 C87.12,569.33 87.84,565.74 88.56,562.21 C95.04,540.17 101.53,513.18 108.01,509.94 C136.82,509.94 165.64,517.05 194.45,522.52 C230.47,525.59 266.48,527.8 302.5,529.78" fill="none" stroke="#FF0000" stroke-width="2.2" stroke-linecap="round"/>
<rect x="64.8" y="493" width="259.3" height="181.5" fill="none" stroke="#000" stroke-width="2"/>
<line x1="64.79" y1="674.5" x2="64.79" y2="677.2" stroke="#000" stroke-width="1.6" stroke-linecap="butt"/>
<line x1="86.4" y1="674.5" x2="86.4" y2="679.3" stroke="#000" stroke-width="1.6" stroke-linecap="butt"/>
<line x1="108.01" y1="674.5" x2="108.01" y2="677.2" stroke="#000" stroke-width="1.6" stroke-linecap="butt"/>
<line x1="129.62" y1="674.5" x2="129.62" y2="679.3" stroke="#000" stroke-width="1.6" stroke-linecap="butt"/>
<line x1="151.23" y1="674.5" x2="151.23" y2="677.2" stroke="#000" stroke-width="1.6" stroke-linecap="butt"/>
<line x1="172.84" y1="674.5" x2="172.84" y2="679.3" stroke="#000" stroke-width="1.6" stroke-linecap="butt"/>
<line x1="194.45" y1="674.5" x2="194.45" y2="677.2" stroke="#000" stroke-width="1.6" stroke-linecap="butt"/>
<line x1="216.06" y1="674.5" x2="216.06" y2="679.3" stroke="#000" stroke-width="1.6" stroke-linecap="butt"/>
<line x1="237.67" y1="674.5" x2="237.67" y2="677.2" stroke="#000" stroke-width="1.6" stroke-linecap="butt"/>
<line x1="259.28" y1="674.5" x2="259.28" y2="679.3" stroke="#000" stroke-width="1.6" stroke-linecap="butt"/>
<line x1="280.89" y1="674.5" x2="280.89" y2="677.2" stroke="#000" stroke-width="1.6" stroke-linecap="butt"/>
<line x1="302.5" y1="674.5" x2="302.5" y2="679.3" stroke="#000" stroke-width="1.6" stroke-linecap="butt"/>
<line x1="324.11" y1="674.5" x2="324.11" y2="677.2" stroke="#000" stroke-width="1.6" stroke-linecap="butt"/>
<text transform="translate(86.4,695) scale(1,1.15)" font-size="14.3" font-weight="bold" text-anchor="middle" fill="#000" >0</text>
<text transform="translate(129.62,695) scale(1,1.15)" font-size="14.3" font-weight="bold" text-anchor="middle" fill="#000" >200</text>
<text transform="translate(172.84,695) scale(1,1.15)" font-size="14.3" font-weight="bold" text-anchor="middle" fill="#000" >400</text>
<text transform="translate(216.06,695) scale(1,1.15)" font-size="14.3" font-weight="bold" text-anchor="middle" fill="#000" >600</text>
<text transform="translate(259.28,695) scale(1,1.15)" font-size="14.3" font-weight="bold" text-anchor="middle" fill="#000" >800</text>
<text transform="translate(302.5,695) scale(1,1.15)" font-size="14.3" font-weight="bold" text-anchor="middle" fill="#000" >1000</text>
<line x1="60" y1="674.5" x2="64.8" y2="674.5" stroke="#000" stroke-width="1.6" stroke-linecap="butt"/>
<line x1="62.1" y1="662.4" x2="64.8" y2="662.4" stroke="#000" stroke-width="1.6" stroke-linecap="butt"/>
<line x1="60" y1="650.3" x2="64.8" y2="650.3" stroke="#000" stroke-width="1.6" stroke-linecap="butt"/>
<line x1="62.1" y1="638.2" x2="64.8" y2="638.2" stroke="#000" stroke-width="1.6" stroke-linecap="butt"/>
<line x1="60" y1="626.1" x2="64.8" y2="626.1" stroke="#000" stroke-width="1.6" stroke-linecap="butt"/>
<line x1="62.1" y1="614" x2="64.8" y2="614" stroke="#000" stroke-width="1.6" stroke-linecap="butt"/>
<line x1="60" y1="601.9" x2="64.8" y2="601.9" stroke="#000" stroke-width="1.6" stroke-linecap="butt"/>
<line x1="62.1" y1="589.8" x2="64.8" y2="589.8" stroke="#000" stroke-width="1.6" stroke-linecap="butt"/>
<line x1="60" y1="577.7" x2="64.8" y2="577.7" stroke="#000" stroke-width="1.6" stroke-linecap="butt"/>
<line x1="62.1" y1="565.6" x2="64.8" y2="565.6" stroke="#000" stroke-width="1.6" stroke-linecap="butt"/>
<line x1="60" y1="553.5" x2="64.8" y2="553.5" stroke="#000" stroke-width="1.6" stroke-linecap="butt"/>
<line x1="62.1" y1="541.4" x2="64.8" y2="541.4" stroke="#000" stroke-width="1.6" stroke-linecap="butt"/>
<line x1="60" y1="529.3" x2="64.8" y2="529.3" stroke="#000" stroke-width="1.6" stroke-linecap="butt"/>
<line x1="62.1" y1="517.2" x2="64.8" y2="517.2" stroke="#000" stroke-width="1.6" stroke-linecap="butt"/>
<line x1="60" y1="505.1" x2="64.8" y2="505.1" stroke="#000" stroke-width="1.6" stroke-linecap="butt"/>
<line x1="62.1" y1="493" x2="64.8" y2="493" stroke="#000" stroke-width="1.6" stroke-linecap="butt"/>
<text transform="translate(57.2,679.4) scale(1,1.15)" font-size="14.3" font-weight="bold" text-anchor="end" fill="#000" >0</text>
<text transform="translate(57.2,655.2) scale(1,1.15)" font-size="14.3" font-weight="bold" text-anchor="end" fill="#000" >5</text>
<text transform="translate(57.2,631) scale(1,1.15)" font-size="14.3" font-weight="bold" text-anchor="end" fill="#000" >10</text>
<text transform="translate(57.2,606.8) scale(1,1.15)" font-size="14.3" font-weight="bold" text-anchor="end" fill="#000" >15</text>
<text transform="translate(57.2,582.6) scale(1,1.15)" font-size="14.3" font-weight="bold" text-anchor="end" fill="#000" >20</text>
<text transform="translate(57.2,558.4) scale(1,1.15)" font-size="14.3" font-weight="bold" text-anchor="end" fill="#000" >25</text>
<text transform="translate(57.2,534.2) scale(1,1.15)" font-size="14.3" font-weight="bold" text-anchor="end" fill="#000" >30</text>
<text transform="translate(57.2,510) scale(1,1.15)" font-size="14.3" font-weight="bold" text-anchor="end" fill="#000" >35</text>
<circle cx="83.2" cy="641.9" r="5.1" fill="url(#sph)" fill-opacity="1"/>
<rect x="78.7" y="656.8" width="9" height="9" fill="#3FCDD8" fill-opacity="1"/>
<text x="101.9" y="646.6" font-size="13" font-weight="normal" text-anchor="start" fill="#000" stroke="#000" stroke-width="0.65"><tspan>CoCr</tspan><tspan font-size="8.8" dy="3.3">2</tspan><tspan dy="-3.3">O</tspan><tspan font-size="8.8" dy="3.3">4</tspan></text>
<text x="101.9" y="665.6" font-size="13" font-weight="normal" text-anchor="start" fill="#000" stroke="#000" stroke-width="0.65"><tspan>Co</tspan><tspan font-size="8.8" dy="3.3">2</tspan><tspan dy="-3.3">CrO</tspan><tspan font-size="8.8" dy="3.3">4</tspan></text>
<text transform="translate(194.6,719.7) scale(1,1.13)" font-size="15" font-weight="bold" text-anchor="middle">Cycle number</text>
<text transform="translate(33.9,583.8) rotate(-90) scale(1,1.12)" x="0" y="0" font-size="15.2" font-weight="bold" text-anchor="middle" fill="#000">Current density at 1.65 V (mA cm<tspan font-size="10.3" dy="-5.7">-2</tspan><tspan dy="5.7">)</tspan></text>
<text x="-1" y="483.7" font-size="23" font-weight="bold" text-anchor="start" fill="#000" >e</text>
<rect x="426.5" y="635.9" width="9" height="9" fill="#FF0000" fill-opacity="1"/>
<rect x="428.9" y="626.5" width="9" height="9" fill="#FF0000" fill-opacity="1"/>
<rect x="443.6" y="597.3" width="9" height="9" fill="#FF0000" fill-opacity="1"/>
<rect x="519.9" y="560.1" width="9" height="9" fill="#FF0000" fill-opacity="1"/>
<rect x="614.8" y="547.5" width="9" height="9" fill="#FF0000" fill-opacity="1"/>
<rect x="421.3" y="652.7" width="9" height="9" fill="#3FCDD8" fill-opacity="1"/>
<rect x="428.4" y="641.9" width="9" height="9" fill="#3FCDD8" fill-opacity="1"/>
<rect x="443.6" y="635.3" width="9" height="9" fill="#3FCDD8" fill-opacity="1"/>
<rect x="519.9" y="620.9" width="9" height="9" fill="#3FCDD8" fill-opacity="1"/>
<rect x="614.8" y="622" width="9" height="9" fill="#3FCDD8" fill-opacity="1"/>
<g stroke="#3FCDD8" stroke-width="1.6" fill="none"><circle cx="426.2" cy="650.8" r="4.5"/><line x1="421.7" y1="650.8" x2="430.7" y2="650.8"/><line x1="426.2" y1="646.3" x2="426.2" y2="655.3"/></g>
<g stroke="#3FCDD8" stroke-width="1.6" fill="none"><circle cx="427.2" cy="649.2" r="4.5"/><line x1="422.7" y1="649.2" x2="431.7" y2="649.2"/><line x1="427.2" y1="644.7" x2="427.2" y2="653.7"/></g>
<g stroke="#3FCDD8" stroke-width="1.6" fill="none"><circle cx="427.7" cy="659" r="4.5"/><line x1="423.2" y1="659" x2="432.2" y2="659"/><line x1="427.7" y1="654.5" x2="427.7" y2="663.5"/></g>
<g stroke="#3FCDD8" stroke-width="1.6" fill="none"><circle cx="429.6" cy="632.6" r="4.5"/><line x1="425.1" y1="632.6" x2="434.1" y2="632.6"/><line x1="429.6" y1="628.1" x2="429.6" y2="637.1"/></g>
<g stroke="#3FCDD8" stroke-width="1.6" fill="none"><circle cx="430.6" cy="633.9" r="4.5"/><line x1="426.1" y1="633.9" x2="435.1" y2="633.9"/><line x1="430.6" y1="629.4" x2="430.6" y2="638.4"/></g>
<g stroke="#3FCDD8" stroke-width="1.6" fill="none"><circle cx="432.9" cy="625.1" r="4.5"/><line x1="428.4" y1="625.1" x2="437.4" y2="625.1"/><line x1="432.9" y1="620.6" x2="432.9" y2="629.6"/></g>
<g stroke="#3FCDD8" stroke-width="1.6" fill="none"><circle cx="448.1" cy="597.5" r="4.5"/><line x1="443.6" y1="597.5" x2="452.6" y2="597.5"/><line x1="448.1" y1="593" x2="448.1" y2="602"/></g>
<g stroke="#3FCDD8" stroke-width="1.6" fill="none"><circle cx="524.4" cy="598.4" r="4.5"/><line x1="519.9" y1="598.4" x2="528.9" y2="598.4"/><line x1="524.4" y1="593.9" x2="524.4" y2="602.9"/></g>
<g stroke="#3FCDD8" stroke-width="1.6" fill="none"><circle cx="619.3" cy="595.9" r="4.5"/><line x1="614.8" y1="595.9" x2="623.8" y2="595.9"/><line x1="619.3" y1="591.4" x2="619.3" y2="600.4"/></g>
<g stroke="#FF0000" stroke-width="1.5" fill="none"><circle cx="425.6" cy="664.6" r="4.5"/><line x1="421.1" y1="664.6" x2="430.1" y2="664.6"/><line x1="425.6" y1="660.1" x2="425.6" y2="669.1"/></g>
<g stroke="#FF0000" stroke-width="1.5" fill="none"><circle cx="427.9" cy="666" r="4.5"/><line x1="423.4" y1="666" x2="432.4" y2="666"/><line x1="427.9" y1="661.5" x2="427.9" y2="670.5"/></g>
<g stroke="#FF0000" stroke-width="1.5" fill="none"><circle cx="434" cy="657.6" r="4.5"/><line x1="429.5" y1="657.6" x2="438.5" y2="657.6"/><line x1="434" y1="653.1" x2="434" y2="662.1"/></g>
<g stroke="#FF0000" stroke-width="1.5" fill="none"><circle cx="448.1" cy="654" r="4.5"/><line x1="443.6" y1="654" x2="452.6" y2="654"/><line x1="448.1" y1="649.5" x2="448.1" y2="658.5"/></g>
<g stroke="#FF0000" stroke-width="1.5" fill="none"><circle cx="524.4" cy="646.5" r="4.5"/><line x1="519.9" y1="646.5" x2="528.9" y2="646.5"/><line x1="524.4" y1="642" x2="524.4" y2="651"/></g>
<g stroke="#FF0000" stroke-width="1.5" fill="none"><circle cx="619.3" cy="630.3" r="4.5"/><line x1="614.8" y1="630.3" x2="623.8" y2="630.3"/><line x1="619.3" y1="625.8" x2="619.3" y2="634.8"/></g>
<line x1="405.4" y1="494" x2="642.9" y2="494" stroke="#000" stroke-width="2" stroke-linecap="butt"/>
<line x1="405.4" y1="493" x2="405.4" y2="683.2" stroke="#000" stroke-width="2" stroke-linecap="butt"/>
<line x1="404.4" y1="682.2" x2="642.9" y2="682.2" stroke="#000" stroke-width="2" stroke-linecap="butt"/>
<line x1="642.9" y1="493" x2="642.9" y2="683.2" stroke="#FF0000" stroke-width="2" stroke-linecap="butt"/>
<line x1="428.6" y1="682.2" x2="428.6" y2="687" stroke="#000" stroke-width="1.6" stroke-linecap="butt"/>
<line x1="452.43" y1="682.2" x2="452.43" y2="684.9" stroke="#000" stroke-width="1.6" stroke-linecap="butt"/>
<line x1="476.25" y1="682.2" x2="476.25" y2="687" stroke="#000" stroke-width="1.6" stroke-linecap="butt"/>
<line x1="500.08" y1="682.2" x2="500.08" y2="684.9" stroke="#000" stroke-width="1.6" stroke-linecap="butt"/>
<line x1="523.9" y1="682.2" x2="523.9" y2="687" stroke="#000" stroke-width="1.6" stroke-linecap="butt"/>
<line x1="547.73" y1="682.2" x2="547.73" y2="684.9" stroke="#000" stroke-width="1.6" stroke-linecap="butt"/>
<line x1="571.55" y1="682.2" x2="571.55" y2="687" stroke="#000" stroke-width="1.6" stroke-linecap="butt"/>
<line x1="595.38" y1="682.2" x2="595.38" y2="684.9" stroke="#000" stroke-width="1.6" stroke-linecap="butt"/>
<line x1="619.2" y1="682.2" x2="619.2" y2="687" stroke="#000" stroke-width="1.6" stroke-linecap="butt"/>
<line x1="643.02" y1="682.2" x2="643.02" y2="684.9" stroke="#000" stroke-width="1.6" stroke-linecap="butt"/>
<text transform="translate(428.6,700.8) scale(1,1.1)" font-size="15.3" font-weight="bold" text-anchor="middle" fill="#000" >0</text>
<text transform="translate(476.25,700.8) scale(1,1.1)" font-size="15.3" font-weight="bold" text-anchor="middle" fill="#000" >250</text>
<text transform="translate(523.9,700.8) scale(1,1.1)" font-size="15.3" font-weight="bold" text-anchor="middle" fill="#000" >500</text>
<text transform="translate(571.55,700.8) scale(1,1.1)" font-size="15.3" font-weight="bold" text-anchor="middle" fill="#000" >750</text>
<text transform="translate(619.2,700.8) scale(1,1.1)" font-size="15.3" font-weight="bold" text-anchor="middle" fill="#000" >1000</text>
<line x1="400.6" y1="659.6" x2="405.4" y2="659.6" stroke="#000" stroke-width="1.6" stroke-linecap="butt"/>
<line x1="402.7" y1="632.02" x2="405.4" y2="632.02" stroke="#000" stroke-width="1.6" stroke-linecap="butt"/>
<line x1="400.6" y1="604.44" x2="405.4" y2="604.44" stroke="#000" stroke-width="1.6" stroke-linecap="butt"/>
<line x1="402.7" y1="576.85" x2="405.4" y2="576.85" stroke="#000" stroke-width="1.6" stroke-linecap="butt"/>
<line x1="400.6" y1="549.27" x2="405.4" y2="549.27" stroke="#000" stroke-width="1.6" stroke-linecap="butt"/>
<line x1="402.7" y1="521.69" x2="405.4" y2="521.69" stroke="#000" stroke-width="1.6" stroke-linecap="butt"/>
<line x1="400.6" y1="494.11" x2="405.4" y2="494.11" stroke="#000" stroke-width="1.6" stroke-linecap="butt"/>
<text transform="translate(398.8,664.8) scale(1,1.1)" font-size="15" font-weight="bold" text-anchor="end" fill="#000" >0.0</text>
<text transform="translate(398.8,609.64) scale(1,1.1)" font-size="15" font-weight="bold" text-anchor="end" fill="#000" >0.5</text>
<text transform="translate(398.8,554.47) scale(1,1.1)" font-size="15" font-weight="bold" text-anchor="end" fill="#000" >1.0</text>
<text transform="translate(398.8,499.31) scale(1,1.1)" font-size="15" font-weight="bold" text-anchor="end" fill="#000" >1.5</text>
<line x1="642.9" y1="680.99" x2="645.6" y2="680.99" stroke="#FF0000" stroke-width="1.6" stroke-linecap="butt"/>
<line x1="642.9" y1="666.6" x2="647.7" y2="666.6" stroke="#FF0000" stroke-width="1.6" stroke-linecap="butt"/>
<line x1="642.9" y1="652.22" x2="645.6" y2="652.22" stroke="#FF0000" stroke-width="1.6" stroke-linecap="butt"/>
<line x1="642.9" y1="637.83" x2="647.7" y2="637.83" stroke="#FF0000" stroke-width="1.6" stroke-linecap="butt"/>
<line x1="642.9" y1="623.45" x2="645.6" y2="623.45" stroke="#FF0000" stroke-width="1.6" stroke-linecap="butt"/>
<line x1="642.9" y1="609.06" x2="647.7" y2="609.06" stroke="#FF0000" stroke-width="1.6" stroke-linecap="butt"/>
<line x1="642.9" y1="594.68" x2="645.6" y2="594.68" stroke="#FF0000" stroke-width="1.6" stroke-linecap="butt"/>
<line x1="642.9" y1="580.29" x2="647.7" y2="580.29" stroke="#FF0000" stroke-width="1.6" stroke-linecap="butt"/>
<line x1="642.9" y1="565.9" x2="645.6" y2="565.9" stroke="#FF0000" stroke-width="1.6" stroke-linecap="butt"/>
<line x1="642.9" y1="551.52" x2="647.7" y2="551.52" stroke="#FF0000" stroke-width="1.6" stroke-linecap="butt"/>
<line x1="642.9" y1="537.13" x2="645.6" y2="537.13" stroke="#FF0000" stroke-width="1.6" stroke-linecap="butt"/>
<line x1="642.9" y1="522.75" x2="647.7" y2="522.75" stroke="#FF0000" stroke-width="1.6" stroke-linecap="butt"/>
<line x1="642.9" y1="508.37" x2="645.6" y2="508.37" stroke="#FF0000" stroke-width="1.6" stroke-linecap="butt"/>
<line x1="642.9" y1="493.98" x2="647.7" y2="493.98" stroke="#FF0000" stroke-width="1.6" stroke-linecap="butt"/>
<text transform="translate(648.4,671.8) scale(1,1.1)" font-size="15" font-weight="bold" text-anchor="start" fill="#FF0000" >0</text>
<text transform="translate(648.4,643.03) scale(1,1.1)" font-size="15" font-weight="bold" text-anchor="start" fill="#FF0000" >10</text>
<text transform="translate(648.4,614.26) scale(1,1.1)" font-size="15" font-weight="bold" text-anchor="start" fill="#FF0000" >20</text>
<text transform="translate(648.4,585.49) scale(1,1.1)" font-size="15" font-weight="bold" text-anchor="start" fill="#FF0000" >30</text>
<text transform="translate(648.4,556.72) scale(1,1.1)" font-size="15" font-weight="bold" text-anchor="start" fill="#FF0000" >40</text>
<text transform="translate(648.4,527.95) scale(1,1.1)" font-size="15" font-weight="bold" text-anchor="start" fill="#FF0000" >50</text>
<text transform="translate(648.4,499.18) scale(1,1.1)" font-size="15" font-weight="bold" text-anchor="start" fill="#FF0000" >60</text>
<rect x="417.95" y="501.35" width="8.9" height="8.9" fill="#FF0000" fill-opacity="1"/>
<rect x="417.95" y="518.15" width="8.9" height="8.9" fill="#3FCDD8" fill-opacity="1"/>
<g stroke="#FF0000" stroke-width="1.5" fill="none"><circle cx="422.4" cy="540" r="4.4"/><line x1="418" y1="540" x2="426.8" y2="540"/><line x1="422.4" y1="535.6" x2="422.4" y2="544.4"/></g>
<g stroke="#3FCDD8" stroke-width="1.5" fill="none"><circle cx="422.4" cy="556.8" r="4.4"/><line x1="418" y1="556.8" x2="426.8" y2="556.8"/><line x1="422.4" y1="552.4" x2="422.4" y2="561.2"/></g>
<text x="437.3" y="509.8" font-size="11" font-weight="normal" text-anchor="start" fill="#000" stroke="#000" stroke-width="0.6"><tspan>Cr of CoCr</tspan><tspan font-size="7.5" dy="2.8">2</tspan><tspan dy="-2.8">O</tspan><tspan font-size="7.5" dy="2.8">4</tspan></text>
<text x="437.3" y="526.5" font-size="11" font-weight="normal" text-anchor="start" fill="#000" stroke="#000" stroke-width="0.6"><tspan>Co of CoCr</tspan><tspan font-size="7.5" dy="2.8">2</tspan><tspan dy="-2.8">O</tspan><tspan font-size="7.5" dy="2.8">4</tspan></text>
<text x="437.3" y="544" font-size="11" font-weight="normal" text-anchor="start" fill="#000" stroke="#000" stroke-width="0.6"><tspan>Cr of Co</tspan><tspan font-size="7.5" dy="2.8">2</tspan><tspan dy="-2.8">CrO</tspan><tspan font-size="7.5" dy="2.8">4</tspan></text>
<text x="437.3" y="560.8" font-size="11" font-weight="normal" text-anchor="start" fill="#000" stroke="#000" stroke-width="0.6"><tspan>Co of Co</tspan><tspan font-size="7.5" dy="2.8">2</tspan><tspan dy="-2.8">CrO</tspan><tspan font-size="7.5" dy="2.8">4</tspan></text>
<text transform="translate(519.3,719.8) scale(1,1.1)" font-size="15.6" font-weight="bold" text-anchor="middle">Cycle number</text>
<text transform="translate(372.8,592.25) rotate(-90) scale(1,1.1)" font-size="15.4" font-weight="bold" text-anchor="middle">Cumulative mass loss of Co (μg)</text>
<text transform="translate(681.6,595.1) rotate(-90) scale(1,1.1)" font-size="15.35" font-weight="bold" text-anchor="middle" fill="#FF0000">Cumulative mass loss of Cr (μg)</text>
<text x="351.2" y="483.5" font-size="23" font-weight="bold" text-anchor="start" fill="#000" >f</text></svg>
</body></html>
